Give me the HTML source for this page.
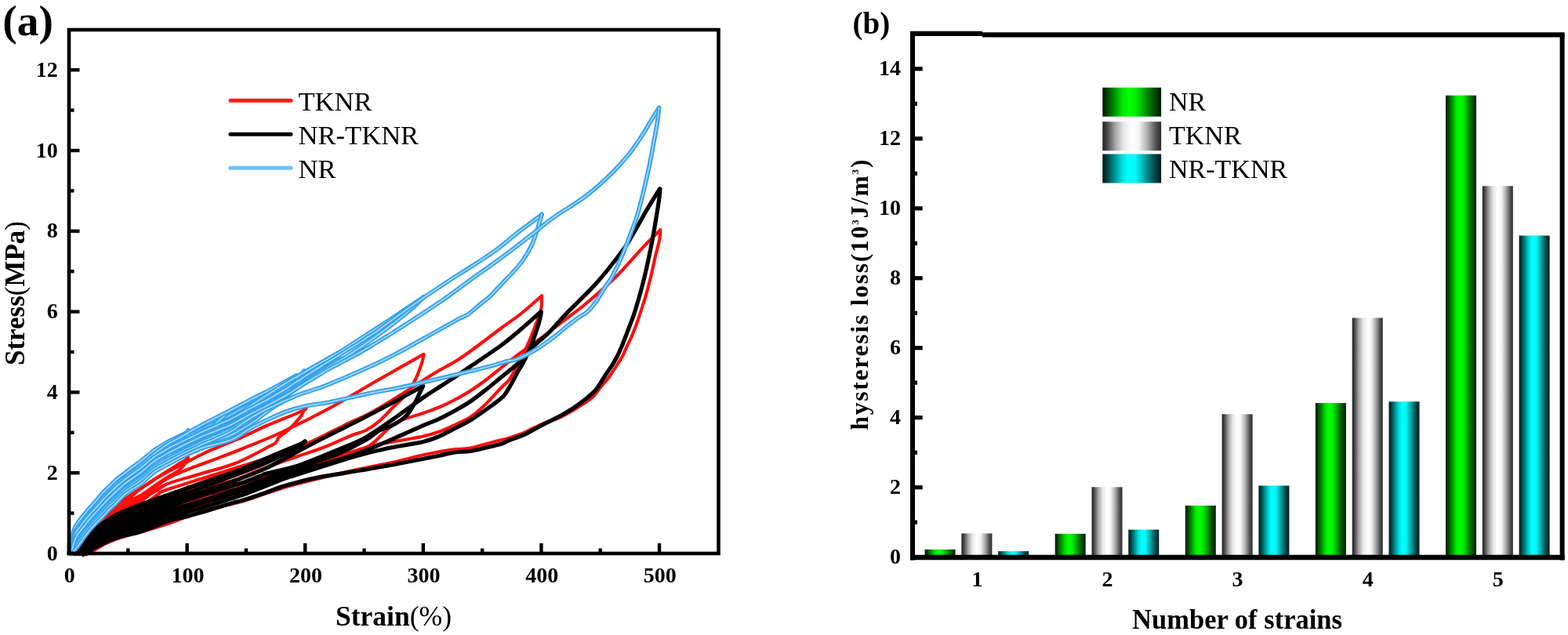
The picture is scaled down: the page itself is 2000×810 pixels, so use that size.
<!DOCTYPE html>
<html><head><meta charset="utf-8"><title>Hysteresis figure</title>
<style>
html,body{margin:0;padding:0;background:#fff;}
body{width:2000px;height:810px;overflow:hidden;}
svg{display:block;}
text{font-family:"Liberation Serif","Times New Roman",serif;}
.b{font-weight:bold;}
</style></head><body>
<svg width="2000" height="810" viewBox="0 0 2000 810">
<defs>
<linearGradient id="gG" x1="0" x2="1" y1="0" y2="0">
<stop offset="0" stop-color="#001600"/><stop offset="0.07" stop-color="#003c00"/><stop offset="0.2" stop-color="#009000"/><stop offset="0.34" stop-color="#00e800"/><stop offset="0.45" stop-color="#00ff00"/><stop offset="0.56" stop-color="#00f000"/><stop offset="0.72" stop-color="#00a000"/><stop offset="0.87" stop-color="#005000"/><stop offset="1" stop-color="#001a00"/>
</linearGradient>
<linearGradient id="gW" x1="0" x2="1" y1="0" y2="0">
<stop offset="0" stop-color="#202020"/><stop offset="0.08" stop-color="#484848"/><stop offset="0.22" stop-color="#a8a8a8"/><stop offset="0.36" stop-color="#e8e8e8"/><stop offset="0.5" stop-color="#ffffff"/><stop offset="0.62" stop-color="#f4f4f4"/><stop offset="0.76" stop-color="#b0b0b0"/><stop offset="0.9" stop-color="#585858"/><stop offset="1" stop-color="#282828"/>
</linearGradient>
<linearGradient id="gC" x1="0" x2="1" y1="0" y2="0">
<stop offset="0" stop-color="#001818"/><stop offset="0.07" stop-color="#003c3c"/><stop offset="0.18" stop-color="#008080"/><stop offset="0.32" stop-color="#00d8d8"/><stop offset="0.43" stop-color="#00ffff"/><stop offset="0.56" stop-color="#00f8f8"/><stop offset="0.7" stop-color="#00b0b0"/><stop offset="0.85" stop-color="#005858"/><stop offset="1" stop-color="#001c1c"/>
</linearGradient>
</defs>
<rect x="0" y="0" width="2000" height="810" fill="#fff"/>

<g id="chartA">
<g fill="none" stroke-linejoin="round" stroke-linecap="round"><g stroke="#ff0d0d" stroke-width="4.1"><path d="M100.0 706.0C101.0 703.9 104.0 696.0 106.1 693.3C108.1 690.7 110.1 691.2 112.1 690.1C114.1 689.0 116.2 687.9 118.2 686.8C120.2 685.6 122.2 684.4 124.2 683.1C126.3 681.8 128.3 680.2 130.3 678.7C132.3 677.3 134.3 675.8 136.4 674.4C138.4 673.0 140.4 671.6 142.4 670.3C144.4 668.9 146.5 667.6 148.5 666.4C150.5 665.2 152.5 664.1 154.5 663.0C156.6 661.9 158.6 660.7 160.6 659.7C162.6 658.6 164.6 657.7 166.7 656.8C168.7 655.8 170.7 654.9 172.7 654.0C174.7 653.1 176.8 652.2 178.8 651.3C180.8 650.4 182.8 649.4 184.8 648.4C186.9 647.4 188.9 646.4 190.9 645.4C192.9 644.4 194.9 643.5 197.0 642.5C199.0 641.5 201.0 640.5 203.0 639.6C205.1 638.6 207.1 637.6 209.1 636.7C211.1 635.7 213.1 634.8 215.2 633.8C217.2 632.8 219.2 631.9 221.2 630.9C223.2 629.9 225.3 628.8 227.3 627.8C229.3 626.8 231.3 625.8 233.3 624.8C235.4 623.9 237.4 622.9 239.4 622.0C241.4 621.1 243.4 620.4 245.5 619.6C247.5 618.8 249.5 618.1 251.5 617.3C253.5 616.6 255.6 616.0 257.6 615.2C259.6 614.4 261.6 613.6 263.6 612.7C265.7 611.8 267.7 610.9 269.7 609.9C271.7 609.0 273.7 608.0 275.8 607.0C277.8 606.1 279.8 605.2 281.8 604.3C283.8 603.4 285.9 602.5 287.9 601.6C289.9 600.8 291.9 600.0 293.9 599.2C296.0 598.5 299.0 597.5 300.0 597.1"/><path d="M102.4 706.0C103.4 704.2 106.5 697.7 108.5 695.3C110.6 693.0 112.6 693.1 114.6 692.0C116.7 690.8 118.7 689.8 120.8 688.6C122.8 687.3 124.9 685.9 126.9 684.5C128.9 683.1 131.0 681.6 133.0 680.2C135.1 678.9 137.1 677.6 139.1 676.3C141.2 675.0 143.2 673.6 145.3 672.4C147.3 671.2 149.4 670.2 151.4 669.2C153.4 668.1 155.5 667.0 157.5 666.0C159.6 665.0 161.6 664.0 163.6 663.1C165.7 662.2 167.7 661.4 169.8 660.5C171.8 659.6 173.8 658.8 175.9 658.0C177.9 657.1 180.0 656.3 182.0 655.4C184.1 654.5 186.1 653.6 188.1 652.6C190.2 651.7 192.2 650.8 194.3 649.9C196.3 649.0 198.3 648.0 200.4 647.1C202.4 646.2 204.5 645.3 206.5 644.4C208.6 643.5 210.6 642.6 212.6 641.7C214.7 640.8 216.7 639.9 218.8 639.0C220.8 638.0 222.8 637.0 224.9 636.0C226.9 635.1 229.0 634.1 231.0 633.1C233.0 632.2 235.1 631.3 237.1 630.3C239.2 629.4 241.2 628.5 243.3 627.6C245.3 626.7 247.3 625.8 249.4 625.0C251.4 624.3 253.5 623.6 255.5 622.9C257.5 622.3 259.6 621.7 261.6 621.2C263.7 620.6 265.7 620.1 267.8 619.6C269.8 619.2 271.8 618.7 273.9 618.3C275.9 617.9 279.0 617.2 280.0 617.0"/><path d="M106.0 706.0C107.0 704.7 110.1 700.1 112.1 698.2C114.2 696.4 116.2 696.0 118.2 694.9C120.3 693.7 122.3 692.5 124.3 691.2C126.4 690.0 128.4 688.5 130.5 687.2C132.5 685.9 134.5 684.7 136.6 683.5C138.6 682.3 140.6 681.1 142.7 680.0C144.7 678.9 146.8 677.9 148.8 676.9C150.8 675.9 152.9 675.1 154.9 674.2C157.0 673.3 159.0 672.4 161.0 671.5C163.1 670.7 165.1 669.9 167.1 669.1C169.2 668.4 171.2 667.7 173.3 667.0C175.3 666.3 177.3 665.6 179.4 664.8C181.4 664.1 183.4 663.3 185.5 662.5C187.5 661.7 189.6 660.9 191.6 660.1C193.6 659.3 195.7 658.5 197.7 657.6C199.8 656.8 201.8 656.0 203.8 655.2C205.9 654.4 207.9 653.6 209.9 652.8C212.0 652.0 214.0 651.2 216.1 650.4C218.1 649.6 220.1 648.7 222.2 647.8C224.2 646.9 226.2 646.0 228.3 645.1C230.3 644.2 232.4 643.3 234.4 642.5C236.4 641.6 238.5 640.7 240.5 639.9C242.6 639.1 244.6 638.3 246.6 637.5C248.7 636.8 250.7 636.1 252.7 635.4C254.8 634.7 256.8 634.1 258.9 633.5C260.9 632.8 262.9 632.2 265.0 631.5C267.0 630.9 269.0 630.2 271.1 629.6C273.1 628.9 275.2 628.3 277.2 627.7C279.2 627.0 281.3 626.4 283.3 625.7C285.4 625.0 287.4 624.2 289.4 623.5C291.5 622.8 293.5 622.1 295.5 621.3C297.6 620.6 299.6 619.9 301.7 619.2C303.7 618.5 305.7 617.9 307.8 617.1C309.8 616.4 311.8 615.7 313.9 615.0C315.9 614.3 319.0 613.2 320.0 612.9"/><path d="M109.6 706.0C110.6 705.2 113.7 702.5 115.7 701.1C117.8 699.7 119.8 698.9 121.8 697.7C123.9 696.5 125.9 695.2 128.0 693.9C130.0 692.7 132.0 691.3 134.1 690.2C136.1 689.1 138.2 688.2 140.2 687.2C142.3 686.2 144.3 685.1 146.3 684.2C148.4 683.4 150.4 682.7 152.5 682.0C154.5 681.2 156.5 680.4 158.6 679.7C160.6 678.9 162.7 678.2 164.7 677.5C166.7 676.8 168.8 676.2 170.8 675.6C172.9 675.0 174.9 674.5 176.9 673.8C179.0 673.2 181.0 672.6 183.1 671.9C185.1 671.3 187.1 670.5 189.2 669.8C191.2 669.2 193.3 668.5 195.3 667.8C197.4 667.1 199.4 666.4 201.4 665.7C203.5 665.0 205.5 664.3 207.6 663.6C209.6 662.9 211.6 662.2 213.7 661.4C215.7 660.7 217.8 660.0 219.8 659.3C221.8 658.5 223.9 657.6 225.9 656.8C228.0 655.9 230.0 655.1 232.0 654.3C234.1 653.5 236.1 652.6 238.2 651.8C240.2 651.0 242.2 650.2 244.3 649.5C246.3 648.7 248.4 647.9 250.4 647.2C252.5 646.5 254.5 646.0 256.5 645.4C258.6 644.8 260.6 644.2 262.7 643.5C264.7 642.9 266.7 642.3 268.8 641.7C270.8 641.1 272.9 640.4 274.9 639.9C276.9 639.3 279.0 638.8 281.0 638.3C283.1 637.8 285.1 637.3 287.1 636.7C289.2 636.1 291.2 635.3 293.3 634.5C295.3 633.7 297.3 632.8 299.4 631.8C301.4 630.8 303.5 629.8 305.5 628.7C307.6 627.6 309.6 626.4 311.6 625.2C313.7 624.0 315.7 622.7 317.8 621.5C319.8 620.4 321.8 619.2 323.9 618.2C325.9 617.2 329.0 616.0 330.0 615.6"/><path d="M90.1 706.0C91.1 703.9 94.2 696.3 96.2 693.2C98.2 690.0 100.3 689.0 102.3 687.0C104.3 685.1 106.4 683.2 108.4 681.4C110.5 679.7 112.5 678.1 114.5 676.6C116.6 675.1 118.6 674.0 120.6 672.6C122.7 671.1 124.7 669.5 126.7 667.9C128.8 666.3 130.8 664.6 132.8 662.9C134.9 661.2 136.9 659.4 138.9 657.7C141.0 656.0 143.0 654.1 145.1 652.5C147.1 650.9 149.1 649.5 151.2 648.0C153.2 646.5 155.2 645.0 157.3 643.6C159.3 642.2 161.3 640.9 163.4 639.7C165.4 638.5 167.4 637.4 169.5 636.5C171.5 635.5 173.5 634.8 175.6 634.0C177.6 633.2 179.6 632.6 181.7 631.7C183.7 630.8 185.8 629.8 187.8 628.6C189.8 627.4 191.9 626.1 193.9 624.7C195.9 623.3 199.0 621.0 200.0 620.2"/><path d="M91.6 706.0C92.6 704.1 95.8 697.3 97.8 694.4C99.9 691.5 102.0 690.4 104.1 688.5C106.1 686.5 108.2 684.6 110.3 682.8C112.4 681.1 114.4 679.6 116.5 678.0C118.6 676.5 120.7 675.0 122.8 673.4C124.8 671.8 126.9 670.1 129.0 668.5C131.1 666.8 133.1 665.2 135.2 663.5C137.3 661.8 139.4 660.1 141.5 658.5C143.5 656.9 145.6 655.4 147.7 654.0C149.8 652.5 151.8 651.1 153.9 649.7C156.0 648.3 158.1 646.7 160.1 645.5C162.2 644.3 164.3 643.4 166.4 642.4C168.5 641.4 170.5 640.3 172.6 639.3C174.7 638.3 176.8 637.3 178.8 636.3C180.9 635.4 183.0 634.6 185.1 633.6C187.2 632.7 189.2 631.8 191.3 630.7C193.4 629.6 195.5 628.4 197.5 627.1C199.6 625.8 201.7 624.3 203.8 622.9C205.8 621.5 209.0 619.5 210.0 618.8"/><path d="M93.1 706.0C94.1 704.4 97.1 698.8 99.2 696.2C101.2 693.6 103.2 692.4 105.2 690.5C107.2 688.7 109.2 686.8 111.3 685.1C113.3 683.3 115.3 681.8 117.3 680.1C119.3 678.5 121.4 676.8 123.4 675.2C125.4 673.6 127.4 672.1 129.4 670.5C131.5 669.0 133.5 667.5 135.5 665.9C137.5 664.4 139.5 662.9 141.6 661.4C143.6 660.0 145.6 658.8 147.6 657.5C149.6 656.2 151.6 654.9 153.7 653.6C155.7 652.3 157.7 650.9 159.7 649.6C161.7 648.4 163.8 647.4 165.8 646.2C167.8 645.0 169.8 643.7 171.8 642.4C173.9 641.1 175.9 639.8 177.9 638.3C179.9 636.7 181.9 634.9 183.9 633.2C186.0 631.4 189.0 628.8 190.0 627.9"/><path d="M91.0 706.0C92.1 703.9 95.2 696.7 97.4 693.7C99.5 690.6 101.6 689.5 103.7 687.5C105.8 685.6 108.0 683.6 110.1 681.8C112.2 680.1 114.3 678.6 116.4 677.0C118.5 675.4 120.7 674.1 122.8 672.5C124.9 670.9 127.0 669.1 129.1 667.4C131.3 665.7 133.4 663.9 135.5 662.2C137.6 660.5 139.7 658.7 141.9 657.0C144.0 655.3 146.1 653.8 148.2 652.1C150.3 650.3 152.5 648.4 154.6 646.4C156.7 644.4 158.8 642.1 160.9 640.1C163.0 638.0 165.2 636.0 167.3 633.9C169.4 631.9 171.5 629.8 173.6 628.0C175.8 626.1 178.9 623.8 180.0 623.0"/><path d="M88.0 706.0C89.0 703.7 92.1 695.8 94.2 692.2C96.2 688.7 98.3 686.9 100.3 684.7C102.4 682.4 104.4 680.7 106.5 678.8C108.6 677.0 110.6 675.1 112.7 673.6C114.7 672.2 116.8 671.4 118.8 670.2C120.9 668.9 122.9 667.6 125.0 666.1C127.1 664.5 129.1 662.7 131.2 660.8C133.2 659.0 135.3 657.1 137.3 655.2C139.4 653.3 141.4 651.3 143.5 649.4C145.6 647.6 147.6 645.8 149.7 644.1C151.7 642.4 153.8 640.8 155.8 639.3C157.9 637.7 159.9 636.1 162.0 634.7C164.1 633.3 166.1 632.0 168.2 630.7C170.2 629.4 172.3 628.0 174.3 626.7C176.4 625.3 178.4 624.0 180.5 622.7C182.6 621.3 184.6 619.9 186.7 618.5C188.7 617.1 190.8 615.7 192.8 614.3C194.9 612.9 196.9 611.5 199.0 610.2C201.1 608.8 203.1 607.5 205.2 606.2C207.2 604.9 209.3 603.6 211.3 602.3C213.4 601.0 215.4 599.7 217.5 598.4C219.6 597.1 221.6 595.8 223.7 594.5C225.7 593.2 227.8 591.8 229.8 590.6C231.9 589.4 234.3 588.4 236.0 587.2C237.7 586.0 239.3 584.1 240.0 583.5"/><path d="M96.0 706.0C97.1 702.9 100.3 691.4 102.4 687.6C104.6 683.7 106.7 684.4 108.9 682.9C111.0 681.4 113.1 680.0 115.3 678.6C117.4 677.3 119.6 676.4 121.7 675.0C123.9 673.6 126.0 671.8 128.2 670.2C130.3 668.5 132.4 666.6 134.6 664.9C136.7 663.1 138.9 661.4 141.0 659.6C143.2 657.8 145.3 656.0 147.4 654.3C149.6 652.6 151.7 651.2 153.9 649.6C156.0 648.0 158.2 646.2 160.3 644.6C162.5 643.1 164.6 641.7 166.7 640.2C168.9 638.8 171.0 637.4 173.2 636.0C175.3 634.6 173.6 636.1 179.6 632.0C185.6 627.9 201.2 616.8 209.3 611.5C217.4 606.2 223.4 603.6 228.0 600.0C232.6 596.4 235.0 592.8 237.0 590.0C239.0 587.2 239.5 584.6 240.0 583.5"/><path d="M88.0 706.0C89.0 703.7 92.1 695.7 94.2 692.2C96.3 688.6 98.4 686.8 100.4 684.6C102.5 682.3 104.6 680.5 106.7 678.7C108.7 676.8 110.8 674.9 112.9 673.5C115.0 672.1 117.0 671.3 119.1 670.0C121.2 668.7 123.3 667.4 125.3 665.8C127.4 664.2 129.5 662.3 131.6 660.5C133.6 658.7 135.7 656.7 137.8 654.8C139.9 652.9 141.9 650.8 144.0 648.9C146.1 647.1 148.1 645.4 150.2 643.7C152.3 642.0 154.4 640.4 156.4 638.8C158.5 637.2 160.6 635.7 162.7 634.3C164.7 632.8 166.8 631.6 168.9 630.2C171.0 628.9 173.0 627.5 175.1 626.2C177.2 624.8 179.3 623.5 181.3 622.1C183.4 620.7 185.5 619.3 187.6 617.9C189.6 616.5 191.7 615.1 193.8 613.7C195.9 612.3 192.5 613.6 200.0 609.5C207.5 605.4 227.5 594.9 238.9 589.0C250.3 583.1 256.6 579.7 268.5 574.4C280.4 569.1 298.1 562.2 310.0 557.0C321.9 551.8 327.3 548.5 340.0 543.0C352.7 537.5 377.8 527.8 386.0 524.0C394.2 520.2 388.5 520.7 389.0 520.0"/><path d="M98.0 706.0C99.0 703.4 102.2 693.4 104.3 690.1C106.4 686.9 108.5 687.7 110.6 686.4C112.6 685.2 114.7 683.9 116.8 682.6C118.9 681.4 121.0 680.4 123.1 679.0C125.2 677.6 127.3 675.9 129.4 674.3C131.5 672.7 133.6 671.0 135.7 669.4C137.8 667.8 139.8 666.3 141.9 664.7C144.0 663.1 146.1 661.6 148.2 660.1C150.3 658.7 152.4 657.4 154.5 655.9C156.6 654.5 158.7 652.9 160.8 651.5C162.9 650.1 165.0 648.8 167.0 647.4C169.1 646.1 171.2 644.8 173.3 643.6C175.4 642.3 173.6 644.1 179.6 640.0C185.6 635.9 196.9 624.8 209.3 619.0C221.7 613.2 238.9 609.7 254.0 605.0C269.1 600.3 284.9 597.0 300.0 591.0C315.1 585.0 335.8 573.4 344.4 569.0C353.0 564.6 349.9 566.4 351.9 564.4C353.9 562.4 353.8 559.5 356.3 557.0C358.8 554.5 362.2 553.8 366.7 549.6C371.1 545.4 379.6 536.3 383.0 532.0C386.4 527.7 386.4 526.0 387.4 524.0C388.4 522.0 388.7 520.7 389.0 520.0"/><path d="M93.0 706.0C94.0 703.4 97.1 693.6 99.2 690.2C101.2 686.7 103.3 686.9 105.4 685.3C107.4 683.8 109.5 682.2 111.6 680.8C113.6 679.5 115.7 678.5 117.7 677.3C119.8 676.0 121.9 675.0 123.9 673.5C126.0 672.1 128.1 670.3 130.1 668.6C132.2 666.9 134.2 665.2 136.3 663.5C138.4 661.8 140.4 660.0 142.5 658.3C144.5 656.7 146.6 655.0 148.7 653.5C150.7 652.0 152.8 650.7 154.9 649.4C156.9 648.1 159.0 646.8 161.0 645.6C163.1 644.5 165.2 643.5 167.2 642.5C169.3 641.4 171.4 640.4 173.4 639.3C175.5 638.2 173.6 640.4 179.6 636.0C185.6 631.6 199.4 619.2 209.3 613.0C219.2 606.8 229.0 603.2 238.9 599.0C248.8 594.8 256.6 592.5 268.5 588.0C280.4 583.5 294.8 578.2 310.0 572.0C325.2 565.8 341.4 559.7 360.0 551.0C378.6 542.3 401.5 530.8 421.5 520.0C441.5 509.2 460.2 497.3 480.0 486.0C499.8 474.7 530.0 457.7 540.0 452.0"/><path d="M101.0 706.0C102.0 704.1 105.0 696.8 107.0 694.4C109.0 691.9 111.1 692.3 113.1 691.2C115.1 690.1 117.1 689.1 119.1 687.9C121.1 686.7 123.1 685.5 125.1 684.1C127.1 682.8 129.1 681.3 131.2 679.9C133.2 678.5 135.2 677.1 137.2 675.7C139.2 674.4 141.2 673.0 143.2 671.7C145.2 670.4 147.2 669.2 149.2 668.1C151.3 667.0 153.3 665.9 155.3 664.9C157.3 663.8 159.3 662.7 161.3 661.8C163.3 660.8 165.3 659.9 167.3 659.0C169.3 658.1 171.4 657.2 173.4 656.4C175.4 655.5 177.4 654.7 179.4 653.8C181.4 652.9 183.4 651.9 185.4 651.0C187.4 650.0 189.4 649.1 191.5 648.2C193.5 647.2 195.5 646.3 197.5 645.3C199.5 644.4 201.5 643.5 203.5 642.5C205.5 641.6 207.5 640.7 209.5 639.8C211.6 638.8 213.6 637.9 215.6 637.0C217.6 636.1 219.6 635.1 221.6 634.1C223.6 633.2 225.6 632.2 227.6 631.3C229.6 630.4 231.7 629.6 233.7 628.8C235.7 628.0 237.7 627.2 239.7 626.5C241.7 625.8 243.7 625.2 245.7 624.7C247.7 624.1 249.7 623.6 251.8 623.2C253.8 622.7 255.8 622.3 257.8 621.9C259.8 621.4 261.8 621.0 263.8 620.6C265.8 620.2 267.8 619.7 269.8 619.3C271.9 618.8 273.9 618.3 275.9 617.9C277.9 617.5 279.9 617.1 281.9 616.6C283.9 616.2 285.9 615.7 287.9 615.3C289.9 614.8 292.0 614.3 294.0 613.7C296.0 613.2 292.3 615.0 300.0 612.0C307.7 609.0 326.7 601.0 340.0 596.0C353.3 591.0 367.6 586.3 380.0 582.0C392.4 577.7 403.1 574.5 414.6 570.0C426.1 565.5 440.6 558.5 449.2 555.0C457.8 551.5 460.7 552.0 466.5 549.0C472.3 546.0 478.0 542.0 483.8 537.1C489.6 532.2 495.3 525.6 501.1 519.8C506.9 514.0 513.6 508.5 518.4 502.5C523.2 496.5 526.6 490.5 529.9 484.0C533.1 477.5 536.1 468.8 537.9 463.5C539.7 458.2 540.1 453.9 540.5 452.0"/><path d="M99.0 706.0C100.0 703.7 103.1 695.2 105.1 692.4C107.2 689.6 109.2 690.3 111.3 689.1C113.3 688.0 115.3 686.8 117.4 685.6C119.4 684.4 121.5 683.3 123.5 682.0C125.6 680.6 127.6 679.0 129.6 677.5C131.7 676.0 133.7 674.5 135.8 673.0C137.8 671.5 139.9 670.1 141.9 668.7C143.9 667.3 146.0 665.8 148.0 664.5C150.1 663.2 152.1 662.1 154.2 661.0C156.2 659.8 158.2 658.5 160.3 657.4C162.3 656.3 164.4 655.4 166.4 654.4C168.4 653.3 170.5 652.2 172.5 651.1C174.6 649.9 176.6 648.6 178.7 647.2C180.7 645.9 182.7 644.4 184.8 642.9C186.8 641.4 188.9 639.9 190.9 638.3C193.0 636.8 195.0 635.3 197.0 633.8C199.1 632.3 201.1 630.9 203.2 629.6C205.2 628.3 198.4 629.8 209.3 626.0C220.2 622.2 251.7 612.3 268.5 607.0C285.3 601.7 294.8 598.8 310.0 594.0C325.2 589.2 345.0 583.3 360.0 578.0C375.0 572.7 386.7 568.0 400.0 562.0C413.3 556.0 428.0 547.8 440.0 542.0C452.0 536.2 461.3 532.7 472.0 527.0C482.7 521.3 492.7 515.0 504.0 508.0C515.3 501.0 530.7 490.9 540.0 485.0C549.3 479.1 553.3 476.5 560.0 472.6C566.7 468.7 573.3 465.6 580.0 461.5C586.7 457.4 590.0 455.2 600.0 448.0C610.0 440.8 629.2 426.0 640.0 418.0C650.8 410.0 656.2 406.8 664.7 400.0C673.2 393.2 686.6 381.1 691.0 377.3"/><path d="M106.0 706.0C107.0 705.1 110.0 702.0 112.0 700.6C114.0 699.1 116.0 698.4 118.0 697.3C120.0 696.1 122.0 695.0 124.0 693.7C126.0 692.5 128.0 691.1 130.0 689.9C132.0 688.7 134.0 687.5 136.0 686.3C138.0 685.2 140.0 684.2 142.0 683.2C144.0 682.1 146.0 681.1 148.0 680.2C150.0 679.3 152.0 678.6 154.0 677.8C156.0 677.0 158.0 676.1 160.0 675.3C162.0 674.5 164.0 673.7 166.0 673.0C168.0 672.3 170.0 671.7 172.0 671.1C174.0 670.4 176.0 669.8 178.0 669.2C180.0 668.5 182.0 667.8 184.0 667.0C186.0 666.3 188.0 665.6 190.0 664.8C192.0 664.1 194.0 663.4 196.0 662.6C198.0 661.9 200.0 661.2 202.0 660.4C204.0 659.7 206.0 658.9 208.0 658.2C210.0 657.4 212.0 656.7 214.0 655.9C216.0 655.2 218.0 654.5 220.0 653.6C222.0 652.8 224.0 651.9 226.0 651.1C228.0 650.2 230.0 649.4 232.0 648.5C234.0 647.7 236.0 646.9 238.0 646.1C240.0 645.2 242.0 644.5 244.0 643.7C246.0 642.9 248.0 642.1 250.0 641.4C252.0 640.7 254.0 640.2 256.0 639.6C258.0 638.9 260.0 638.3 262.0 637.6C264.0 637.0 266.0 636.3 268.0 635.7C270.0 635.0 272.0 634.3 274.0 633.7C276.0 633.1 278.0 632.5 280.0 631.9C282.0 631.3 284.0 630.7 286.0 630.1C288.0 629.5 290.0 628.9 292.0 628.4C294.0 627.8 296.0 627.2 298.0 626.6C300.0 626.0 302.0 625.4 304.0 624.8C306.0 624.2 308.0 623.6 310.0 622.9C312.0 622.2 314.0 621.4 316.0 620.7C318.0 620.0 320.0 619.2 322.0 618.5C324.0 617.7 326.0 617.0 328.0 616.3C330.0 615.6 332.0 614.8 334.0 614.1C336.0 613.4 329.0 615.7 340.0 612.0C351.0 608.3 383.3 597.5 400.0 592.0C416.7 586.5 428.0 582.8 440.0 579.0C452.0 575.2 461.3 572.1 472.0 569.4C482.7 566.7 492.7 565.1 504.0 563.0C515.3 560.9 530.7 558.7 540.0 556.6C549.3 554.5 553.3 553.0 560.0 550.6C566.7 548.2 573.3 545.1 580.0 542.0C586.7 538.9 593.5 536.3 600.0 532.0C606.5 527.7 612.5 522.2 619.0 516.0C625.5 509.8 633.7 500.3 638.8 495.0C643.9 489.7 645.9 489.0 649.4 484.4C652.9 479.8 656.6 472.9 659.8 467.2C663.0 461.4 665.8 455.4 668.4 449.9C671.0 444.4 673.0 439.8 675.3 434.3C677.6 428.8 679.8 423.6 682.2 417.0C684.7 410.4 688.5 401.2 690.0 394.6C691.5 388.0 690.8 380.2 691.0 377.3"/><path d="M103.0 706.0C104.0 704.7 107.1 700.1 109.1 698.2C111.1 696.4 113.1 696.0 115.2 694.9C117.2 693.8 119.2 692.8 121.2 691.5C123.3 690.3 125.3 688.9 127.3 687.6C129.3 686.3 131.4 684.8 133.4 683.5C135.4 682.2 137.4 681.1 139.5 679.9C141.5 678.7 143.5 677.4 145.5 676.3C147.6 675.2 149.6 674.4 151.6 673.4C153.6 672.5 155.7 671.5 157.7 670.6C159.7 669.7 161.7 668.8 163.8 668.0C165.8 667.1 167.8 666.4 169.8 665.6C171.9 664.8 173.9 664.1 175.9 663.4C177.9 662.6 180.0 661.8 182.0 661.0C184.0 660.2 186.1 659.4 188.1 658.5C190.1 657.7 192.1 656.8 194.2 656.0C196.2 655.2 198.2 654.3 200.2 653.5C202.3 652.7 204.3 651.8 206.3 651.0C208.3 650.2 210.4 649.3 212.4 648.5C214.4 647.7 216.4 646.9 218.5 646.0C220.5 645.1 222.5 644.2 224.5 643.3C226.6 642.3 228.6 641.4 230.6 640.5C232.6 639.6 234.7 638.7 236.7 637.8C238.7 637.0 240.7 636.1 242.8 635.3C244.8 634.5 246.8 633.7 248.8 633.0C250.9 632.3 252.9 631.7 254.9 631.1C256.9 630.5 259.0 629.8 261.0 629.2C263.0 628.6 265.1 628.0 267.1 627.4C269.1 626.8 271.1 626.2 273.2 625.6C275.2 625.0 277.2 624.5 279.2 623.9C281.3 623.4 283.3 622.9 285.3 622.4C287.3 621.9 289.4 621.4 291.4 620.9C293.4 620.4 295.4 619.9 297.5 619.4C299.5 618.9 301.5 618.4 303.5 617.8C305.6 617.3 307.6 616.9 309.6 616.3C311.6 615.7 313.7 614.9 315.7 614.3C317.7 613.6 319.7 613.0 321.8 612.3C323.8 611.6 325.8 610.9 327.8 610.2C329.9 609.5 331.9 608.9 333.9 608.1C335.9 607.4 329.0 609.0 340.0 606.0C351.0 603.0 383.3 594.2 400.0 590.0C416.7 585.8 428.0 584.7 440.0 581.0C452.0 577.3 461.3 574.8 472.0 568.0C482.7 561.2 492.7 546.8 504.0 540.0C515.3 533.2 530.7 530.4 540.0 527.0C549.3 523.6 553.3 522.3 560.0 519.5C566.7 516.7 573.3 513.5 580.0 510.0C586.7 506.5 593.3 502.8 600.0 498.5C606.7 494.2 613.3 489.5 620.0 484.5C626.7 479.5 633.3 473.8 640.0 468.5C646.7 463.2 651.8 459.1 660.0 453.0C668.2 446.9 679.1 439.3 689.0 432.0C698.9 424.7 709.5 416.6 719.3 409.0C729.1 401.4 737.0 396.0 748.0 386.7C759.0 377.4 773.6 365.0 785.5 353.3C797.4 341.6 809.9 326.3 819.3 316.3C828.7 306.3 838.2 297.3 842.0 293.5"/><path d="M110.0 707.5C111.7 706.6 116.1 704.2 120.0 702.0C123.9 699.8 129.2 696.2 133.5 694.0C137.8 691.8 140.6 690.5 146.0 688.5C151.4 686.5 160.3 683.7 166.0 682.0C171.7 680.3 174.3 680.1 180.0 678.5C185.7 676.9 193.5 674.5 200.0 672.5C206.5 670.5 210.8 669.4 219.0 666.5C227.2 663.6 239.7 658.2 249.0 655.0C258.3 651.8 265.0 650.1 275.0 647.5C285.0 644.9 295.0 643.6 309.0 639.5C323.0 635.4 342.5 627.9 359.0 623.0C375.5 618.1 391.2 614.2 408.0 610.0C424.8 605.8 444.7 601.3 460.0 598.0C475.3 594.7 486.7 593.0 500.0 590.0C513.3 587.0 530.0 582.6 540.0 580.3C550.0 578.0 553.3 577.5 560.0 576.3C566.7 575.1 573.3 573.8 580.0 573.0C586.7 572.2 590.0 573.5 600.0 571.5C610.0 569.5 631.9 563.1 640.0 561.0C648.1 558.9 643.9 560.5 648.6 559.0C653.3 557.5 663.2 554.1 668.4 552.0C673.6 549.9 675.2 548.5 680.0 546.2C684.8 544.0 691.5 540.8 697.3 538.5C703.1 536.2 707.7 535.6 714.6 532.3C721.5 529.0 731.9 522.8 738.8 518.5C745.7 514.2 751.5 510.5 756.0 506.4C760.5 502.3 762.4 498.4 766.0 494.0C769.6 489.6 774.3 484.5 777.6 480.0C780.9 475.5 783.3 471.2 786.0 467.0C788.7 462.8 791.3 459.3 793.6 455.0C795.9 450.7 798.0 445.2 800.0 441.0C802.0 436.8 803.5 434.2 805.3 430.0C807.1 425.8 809.3 420.5 811.0 416.0C812.7 411.5 814.0 407.1 815.5 402.8C817.0 398.5 818.4 394.1 819.7 390.0C821.0 385.9 821.8 384.2 823.5 378.1C825.2 372.0 828.0 361.7 830.0 353.5C832.0 345.3 833.6 337.1 835.5 328.8C837.4 320.6 840.4 310.0 841.5 304.0C842.6 298.0 841.9 294.8 842.0 293.0"/></g><g stroke="#000" stroke-width="5.2"><path d="M89.3 706.0C90.3 705.1 93.3 702.6 95.4 700.8C97.4 699.0 99.5 697.3 101.5 695.4C103.5 693.6 105.6 691.6 107.6 689.7C109.7 687.7 111.7 685.6 113.7 683.7C115.8 681.8 117.8 679.9 119.9 678.1C121.9 676.4 123.9 674.8 126.0 673.3C128.0 671.8 130.1 670.4 132.1 669.0C134.1 667.6 136.2 666.2 138.2 664.9C140.3 663.6 142.3 662.4 144.3 661.2C146.4 660.0 148.4 658.9 150.5 657.9C152.5 656.9 154.5 656.2 156.6 655.3C158.6 654.4 160.6 653.6 162.7 652.7C164.7 651.9 166.8 651.1 168.8 650.3C170.8 649.5 172.9 648.7 174.9 648.0C177.0 647.2 179.0 646.4 181.0 645.6C183.1 644.9 185.1 644.2 187.2 643.4C189.2 642.7 191.2 641.9 193.3 641.2C195.3 640.4 197.4 639.5 199.4 638.7C201.4 637.9 203.5 637.0 205.5 636.1C207.6 635.2 209.6 634.3 211.6 633.4C213.7 632.5 215.7 631.7 217.8 630.8C219.8 630.0 221.8 629.1 223.9 628.3C225.9 627.5 229.0 626.5 230.0 626.1"/><path d="M90.7 706.0C91.7 705.0 94.9 702.1 97.0 700.3C99.1 698.4 101.2 696.8 103.3 695.0C105.4 693.1 107.4 691.2 109.5 689.3C111.6 687.4 113.7 685.3 115.8 683.4C117.9 681.5 120.0 679.8 122.1 678.1C124.2 676.5 126.3 675.1 128.4 673.6C130.5 672.2 132.6 670.8 134.7 669.4C136.7 668.0 138.8 666.6 140.9 665.3C143.0 664.1 145.1 663.0 147.2 661.9C149.3 660.9 151.4 660.0 153.5 659.0C155.6 658.1 157.7 657.3 159.8 656.5C161.9 655.6 164.0 654.8 166.0 653.9C168.1 653.1 170.2 652.4 172.3 651.6C174.4 650.9 176.5 650.1 178.6 649.4C180.7 648.7 182.8 648.0 184.9 647.3C187.0 646.6 189.1 645.9 191.2 645.3C193.3 644.6 195.3 643.9 197.4 643.2C199.5 642.5 201.6 641.9 203.7 641.1C205.8 640.4 209.0 639.3 210.0 639.0"/><path d="M94.5 706.0C95.5 704.9 98.7 701.4 100.8 699.7C102.8 697.9 104.9 697.0 107.0 695.4C109.1 693.8 111.2 691.9 113.3 690.1C115.4 688.4 117.5 686.5 119.6 684.9C121.7 683.3 123.8 681.9 125.9 680.5C128.0 679.1 130.0 677.8 132.1 676.5C134.2 675.2 136.3 673.9 138.4 672.7C140.5 671.5 142.6 670.3 144.7 669.3C146.8 668.2 148.9 667.3 151.0 666.4C153.1 665.5 155.1 664.8 157.2 664.0C159.3 663.2 161.4 662.4 163.5 661.7C165.6 660.9 167.7 660.2 169.8 659.5C171.9 658.8 174.0 658.1 176.1 657.3C178.2 656.6 180.3 655.9 182.3 655.1C184.4 654.3 186.5 653.4 188.6 652.6C190.7 651.7 192.8 650.8 194.9 649.8C197.0 648.9 199.1 648.0 201.2 647.1C203.3 646.2 205.4 645.3 207.4 644.4C209.5 643.5 211.6 642.6 213.7 641.8C215.8 641.0 219.0 640.0 220.0 639.6"/><path d="M97.0 706.0C98.0 705.0 101.1 701.8 103.2 700.1C105.3 698.5 107.4 697.6 109.4 696.1C111.5 694.5 113.6 692.7 115.7 691.1C117.7 689.5 119.8 687.9 121.9 686.4C123.9 685.0 126.0 683.8 128.1 682.5C130.2 681.3 132.2 680.0 134.3 678.8C136.4 677.6 138.4 676.4 140.5 675.3C142.6 674.3 144.7 673.2 146.7 672.3C148.8 671.4 150.9 670.6 153.0 669.9C155.0 669.1 157.1 668.4 159.2 667.6C161.2 666.9 163.3 666.2 165.4 665.5C167.5 664.8 169.5 664.2 171.6 663.5C173.7 662.8 175.8 662.2 177.8 661.5C179.9 660.8 182.0 660.0 184.0 659.3C186.1 658.5 188.2 657.7 190.3 657.0C192.3 656.2 194.4 655.4 196.5 654.7C198.6 653.9 200.6 653.2 202.7 652.3C204.8 651.5 206.8 650.6 208.9 649.8C211.0 648.9 213.1 647.9 215.1 647.0C217.2 646.1 219.3 645.3 221.3 644.5C223.4 643.7 225.5 642.8 227.6 642.0C229.6 641.2 231.7 640.4 233.8 639.7C235.9 638.9 239.0 637.9 240.0 637.5"/><path d="M98.4 706.0C99.5 705.1 102.7 702.3 104.8 700.7C106.9 699.0 109.0 697.8 111.1 696.3C113.3 694.7 115.4 692.9 117.5 691.4C119.6 689.8 121.7 688.4 123.8 687.0C125.9 685.7 128.1 684.5 130.2 683.3C132.3 682.1 134.4 680.9 136.5 679.7C138.6 678.6 140.8 677.5 142.9 676.4C145.0 675.4 147.1 674.5 149.2 673.6C151.3 672.8 153.5 672.1 155.6 671.4C157.7 670.6 159.8 669.9 161.9 669.2C164.0 668.5 166.1 667.9 168.3 667.3C170.4 666.6 172.5 666.0 174.6 665.4C176.7 664.8 178.8 664.2 181.0 663.6C183.1 662.9 185.2 662.1 187.3 661.3C189.4 660.6 191.5 659.8 193.7 659.1C195.8 658.3 198.9 657.1 200.0 656.8"/><path d="M99.9 706.0C100.9 705.2 104.0 703.0 106.1 701.5C108.1 700.0 110.2 698.6 112.3 697.1C114.3 695.5 116.4 693.9 118.5 692.4C120.5 691.0 122.6 689.7 124.7 688.5C126.7 687.2 128.8 686.1 130.9 684.9C132.9 683.8 135.0 682.7 137.1 681.6C139.1 680.5 141.2 679.5 143.3 678.5C145.3 677.6 147.4 676.7 149.4 675.9C151.5 675.1 153.6 674.5 155.6 673.8C157.7 673.1 159.8 672.4 161.8 671.8C163.9 671.1 166.0 670.5 168.0 669.9C170.1 669.3 172.2 668.6 174.2 668.0C176.3 667.4 178.4 666.8 180.4 666.1C182.5 665.4 184.6 664.6 186.6 663.8C188.7 663.0 190.8 662.2 192.8 661.5C194.9 660.7 197.0 660.0 199.0 659.3C201.1 658.6 203.1 657.9 205.2 657.3C207.3 656.6 209.3 655.9 211.4 655.3C213.5 654.6 215.5 654.1 217.6 653.5C219.7 653.0 221.7 652.5 223.8 652.0C225.9 651.5 229.0 650.6 230.0 650.3"/><path d="M101.5 706.0C102.6 705.3 105.7 703.3 107.8 701.9C109.9 700.5 112.0 699.0 114.1 697.6C116.2 696.1 118.3 694.5 120.4 693.1C122.5 691.8 124.6 690.7 126.7 689.5C128.8 688.3 130.9 687.1 133.0 686.0C135.1 684.9 137.2 683.9 139.3 682.9C141.4 681.9 143.5 680.8 145.6 680.0C147.7 679.1 149.8 678.5 151.9 677.8C154.0 677.1 156.1 676.4 158.2 675.7C160.4 675.1 162.5 674.4 164.6 673.8C166.7 673.2 168.8 672.6 170.9 672.0C173.0 671.4 175.1 670.8 177.2 670.2C179.3 669.6 181.4 669.1 183.5 668.5C185.6 667.9 187.7 667.3 189.8 666.7C191.9 666.2 194.0 665.7 196.1 665.1C198.2 664.6 200.3 664.1 202.4 663.5C204.5 662.9 206.6 662.3 208.7 661.7C210.8 661.0 213.9 660.0 215.0 659.7"/><path d="M102.4 706.0C103.4 705.4 106.6 703.6 108.7 702.3C110.7 700.9 112.8 699.4 114.9 698.0C117.0 696.6 119.1 695.1 121.2 693.8C123.3 692.5 125.3 691.5 127.4 690.4C129.5 689.2 131.6 688.1 133.7 687.0C135.8 685.9 137.9 685.0 139.9 684.0C142.0 683.0 144.1 682.0 146.2 681.2C148.3 680.4 150.4 679.7 152.5 679.2C154.5 678.6 156.6 678.2 158.7 677.9C160.8 677.6 162.9 677.5 165.0 677.3C167.1 677.2 169.1 677.2 171.2 677.2C173.3 677.1 175.4 677.2 177.5 677.0C179.6 676.9 181.7 676.6 183.7 676.1C185.8 675.6 189.0 674.5 190.0 674.1"/><path d="M104.6 706.0C105.6 705.5 108.7 704.4 110.7 703.2C112.8 702.1 114.8 700.5 116.9 699.3C118.9 698.0 121.0 696.7 123.0 695.6C125.1 694.5 127.1 693.5 129.2 692.4C131.2 691.4 133.3 690.4 135.3 689.4C137.4 688.4 139.4 687.5 141.5 686.7C143.6 685.8 145.6 684.9 147.7 684.2C149.7 683.5 151.8 682.9 153.8 682.3C155.9 681.7 157.9 681.1 160.0 680.5C162.0 679.9 164.1 679.4 166.1 678.9C168.2 678.3 170.2 677.8 172.3 677.3C174.3 676.7 176.4 676.3 178.4 675.7C180.5 675.0 182.5 674.2 184.6 673.5C186.6 672.7 188.7 671.9 190.7 671.1C192.8 670.3 194.9 669.5 196.9 668.8C199.0 668.0 201.0 667.2 203.1 666.5C205.1 665.7 207.2 665.0 209.2 664.4C211.3 663.8 213.3 663.1 215.4 662.6C217.4 662.2 219.5 662.0 221.5 661.7C223.6 661.3 225.6 661.0 227.7 660.7C229.7 660.4 231.8 660.0 233.8 659.6C235.9 659.2 239.0 658.4 240.0 658.2"/><path d="M105.5 706.0C106.5 705.6 109.7 704.7 111.8 703.6C113.9 702.5 116.0 700.8 118.1 699.6C120.2 698.3 122.3 697.2 124.4 696.1C126.5 695.0 128.6 694.0 130.7 692.9C132.8 691.9 134.9 691.0 137.0 690.0C139.1 689.1 141.2 688.1 143.3 687.3C145.4 686.5 147.5 685.8 149.6 685.1C151.7 684.4 153.8 683.9 155.9 683.3C158.0 682.7 160.1 682.1 162.2 681.5C164.3 681.0 166.4 680.5 168.5 680.0C170.6 679.5 172.7 679.1 174.8 678.6C176.9 678.1 179.0 677.7 181.1 677.1C183.2 676.5 185.3 675.6 187.4 674.9C189.5 674.2 191.6 673.4 193.7 672.6C195.8 671.9 198.9 670.7 200.0 670.3"/><path d="M92.5 706.0C93.6 705.0 96.7 701.6 98.8 699.8C100.9 697.9 103.0 696.7 105.1 695.0C107.3 693.3 109.4 691.4 111.5 689.5C113.6 687.6 115.7 685.6 117.8 683.8C119.9 682.1 122.0 680.4 124.1 678.9C126.2 677.4 128.3 676.1 130.4 674.8C132.5 673.4 134.7 672.0 136.8 670.7C138.9 669.4 141.0 668.2 143.1 667.0C145.2 665.8 147.3 664.7 149.4 663.8C151.5 662.8 153.6 662.0 155.7 661.2C157.8 660.4 160.0 659.5 162.1 658.7C164.2 657.9 166.3 657.2 168.4 656.5C170.5 655.9 172.6 655.2 174.7 654.6C176.8 654.0 178.9 653.4 181.0 652.7C183.1 652.1 185.2 651.5 187.4 650.8C189.5 650.2 191.6 649.5 193.7 648.8C195.8 648.1 198.9 647.0 200.0 646.6"/><path d="M95.9 706.0C97.0 705.0 100.1 701.5 102.2 699.8C104.3 698.1 106.4 697.2 108.5 695.7C110.6 694.2 112.6 692.2 114.7 690.6C116.8 688.9 118.9 687.2 121.0 685.7C123.1 684.2 125.2 682.9 127.3 681.5C129.4 680.2 131.5 678.9 133.6 677.7C135.6 676.4 137.7 675.2 139.8 674.1C141.9 672.9 144.0 671.8 146.1 670.9C148.2 669.9 150.3 669.1 152.4 668.3C154.5 667.4 156.5 666.7 158.6 665.9C160.7 665.1 162.8 664.3 164.9 663.5C167.0 662.8 169.1 662.0 171.2 661.3C173.3 660.5 175.4 659.8 177.5 659.0C179.5 658.3 181.6 657.5 183.7 656.7C185.8 655.9 189.0 654.7 190.0 654.3"/><path d="M103.7 706.0C104.7 705.5 107.9 704.0 110.0 702.7C112.1 701.5 114.3 699.9 116.4 698.5C118.5 697.1 120.6 695.8 122.7 694.6C124.9 693.4 127.0 692.3 129.1 691.2C131.2 690.1 133.3 689.0 135.5 688.0C137.6 687.0 139.7 686.1 141.8 685.1C144.0 684.1 146.1 683.0 148.2 682.0C150.3 681.0 152.4 680.1 154.6 679.0C156.7 678.0 158.8 676.9 160.9 675.8C163.0 674.8 165.2 673.7 167.3 672.7C169.4 671.8 171.5 670.8 173.6 669.9C175.8 669.1 178.9 668.0 180.0 667.6"/><path d="M88.0 706.0C89.0 705.2 92.1 703.0 94.2 701.3C96.2 699.5 98.3 697.6 100.3 695.7C102.4 693.7 104.4 691.6 106.5 689.5C108.6 687.4 110.6 685.3 112.7 683.3C114.7 681.3 116.8 679.3 118.8 677.4C120.9 675.6 122.9 673.9 125.0 672.3C127.1 670.7 129.1 669.3 131.2 667.9C133.2 666.4 135.3 664.9 137.3 663.6C139.4 662.2 141.4 660.9 143.5 659.7C145.6 658.5 147.6 657.2 149.7 656.2C151.7 655.2 153.8 654.4 155.8 653.5C157.9 652.6 159.9 651.7 162.0 650.8C164.1 649.9 166.1 649.1 168.2 648.3C170.2 647.4 172.3 646.6 174.3 645.8C176.4 645.0 178.4 644.2 180.5 643.4C182.6 642.6 184.6 641.9 186.7 641.2C188.7 640.5 190.8 639.7 192.8 639.0C194.9 638.2 196.9 637.5 199.0 636.8C201.1 636.1 203.1 635.4 205.2 634.6C207.2 633.9 209.3 633.2 211.3 632.5C213.4 631.8 215.4 631.1 217.5 630.4C219.6 629.7 221.6 629.0 223.7 628.3C225.7 627.6 227.8 626.8 229.8 626.1C231.9 625.4 234.3 624.7 236.0 624.0C237.7 623.3 239.3 622.3 240.0 622.0"/><path d="M97.0 706.0C98.0 704.4 101.1 698.9 103.2 696.5C105.3 694.0 107.4 693.1 109.4 691.3C111.5 689.5 113.6 687.5 115.6 685.7C117.7 684.0 119.8 682.2 121.8 680.7C123.9 679.1 126.0 677.7 128.1 676.3C130.1 674.9 132.2 673.6 134.3 672.3C136.3 671.0 138.4 669.6 140.5 668.4C142.5 667.2 144.6 666.1 146.7 665.1C148.8 664.1 150.8 663.2 152.9 662.3C155.0 661.4 157.0 660.7 159.1 659.9C161.2 659.0 163.2 658.2 165.3 657.4C167.4 656.7 169.5 656.0 171.5 655.2C173.6 654.4 175.7 653.5 177.7 652.6C179.8 651.7 181.9 650.7 183.9 649.8C186.0 648.8 188.1 647.8 190.2 646.8C192.2 645.8 194.3 644.8 196.4 643.8C198.4 642.9 200.5 641.9 202.6 641.0C204.6 640.1 206.7 639.2 208.8 638.3C210.9 637.5 211.1 637.9 215.0 636.0C218.9 634.1 227.8 629.3 232.0 627.0C236.2 624.7 238.7 622.8 240.0 622.0"/><path d="M88.0 706.0C89.0 705.2 92.0 703.0 94.0 701.4C96.1 699.7 98.1 697.8 100.1 695.9C102.1 694.0 104.1 691.9 106.1 689.9C108.1 687.9 110.1 685.8 112.2 683.8C114.2 681.9 116.2 679.8 118.2 678.0C120.2 676.1 122.2 674.4 124.2 672.8C126.3 671.2 128.3 669.9 130.3 668.5C132.3 667.1 134.3 665.6 136.3 664.3C138.3 662.9 140.4 661.6 142.4 660.3C144.4 659.1 146.4 657.9 148.4 656.9C150.4 655.9 152.4 655.0 154.4 654.1C156.5 653.2 158.5 652.3 160.5 651.5C162.5 650.6 164.5 649.7 166.5 648.9C168.5 648.1 170.6 647.3 172.6 646.5C174.6 645.7 176.6 644.9 178.6 644.1C180.6 643.4 182.6 642.7 184.7 641.9C186.7 641.2 188.7 640.5 190.7 639.8C192.7 639.0 194.7 638.3 196.7 637.6C198.7 636.9 200.8 636.2 202.8 635.5C204.8 634.8 206.8 634.1 208.8 633.4C210.8 632.7 212.8 632.0 214.9 631.3C216.9 630.6 218.9 629.9 220.9 629.2C222.9 628.5 224.9 627.8 226.9 627.1C229.0 626.4 231.0 625.7 233.0 625.0C235.0 624.3 237.0 623.7 239.0 623.0C241.0 622.3 243.0 621.5 245.1 620.8C247.1 620.1 249.1 619.4 251.1 618.7C253.1 618.0 255.1 617.3 257.1 616.5C259.2 615.8 261.2 615.1 263.2 614.4C265.2 613.7 267.2 613.0 269.2 612.2C271.2 611.5 273.3 610.8 275.3 610.1C277.3 609.4 279.3 608.7 281.3 608.0C283.3 607.3 285.3 606.6 287.3 605.9C289.4 605.2 291.4 604.5 293.4 603.8C295.4 603.0 297.4 602.3 299.4 601.6C301.4 600.8 303.5 600.1 305.5 599.4C307.5 598.6 309.5 597.9 311.5 597.0C313.5 596.2 315.5 595.3 317.6 594.4C319.6 593.5 321.6 592.6 323.6 591.7C325.6 590.8 327.6 589.9 329.6 589.1C331.6 588.2 333.7 587.3 335.7 586.4C337.7 585.5 339.7 584.6 341.7 583.8C343.7 582.9 345.7 582.1 347.8 581.2C349.8 580.4 351.8 579.6 353.8 578.7C355.8 577.9 357.8 577.0 359.8 576.2C361.9 575.3 363.9 574.5 365.9 573.6C367.9 572.8 369.9 572.0 371.9 571.1C373.9 570.3 375.9 569.4 378.0 568.6C380.0 567.7 382.2 567.0 384.0 566.0C385.8 565.1 388.2 563.5 389.0 563.0"/><path d="M95.0 706.0C96.0 704.5 99.0 699.5 101.0 697.2C103.0 694.9 105.0 693.9 107.1 692.2C109.1 690.4 111.1 688.4 113.1 686.6C115.1 684.8 117.1 682.9 119.1 681.2C121.1 679.5 123.1 678.0 125.1 676.5C127.2 675.1 129.2 673.8 131.2 672.5C133.2 671.1 135.2 669.8 137.2 668.5C139.2 667.3 141.2 666.1 143.2 664.9C145.2 663.8 147.3 662.7 149.3 661.8C151.3 660.8 153.3 660.1 155.3 659.2C157.3 658.4 159.3 657.6 161.3 656.8C163.3 656.0 165.3 655.2 167.4 654.4C169.4 653.7 171.4 653.0 173.4 652.2C175.4 651.5 177.4 650.7 179.4 650.0C181.4 649.3 183.4 648.5 185.4 647.8C187.5 647.1 189.5 646.3 191.5 645.6C193.5 644.9 195.5 644.2 197.5 643.4C199.5 642.7 201.5 642.0 203.5 641.3C205.5 640.6 207.5 639.8 209.6 639.1C211.6 638.4 213.6 637.7 215.6 637.0C217.6 636.4 219.6 635.7 221.6 635.1C223.6 634.4 225.6 633.7 227.6 633.0C229.7 632.3 231.7 631.6 233.7 630.9C235.7 630.2 237.7 629.5 239.7 628.7C241.7 628.0 243.7 627.2 245.7 626.5C247.7 625.7 249.8 625.0 251.8 624.2C253.8 623.4 255.8 622.7 257.8 621.9C259.8 621.1 261.8 620.3 263.8 619.5C265.8 618.7 267.8 618.0 269.9 617.2C271.9 616.4 273.9 615.7 275.9 614.9C277.9 614.1 279.9 613.4 281.9 612.6C283.9 611.9 285.9 611.1 287.9 610.4C290.0 609.7 292.0 608.9 294.0 608.2C296.0 607.4 292.3 609.0 300.0 606.0C307.7 603.0 328.4 595.0 340.0 590.0C351.6 585.0 362.5 579.4 369.6 576.0C376.7 572.6 379.3 571.7 382.5 569.5C385.7 567.3 387.9 564.1 389.0 563.0"/><path d="M93.0 706.0C94.0 705.0 97.1 701.8 99.1 700.1C101.1 698.4 103.1 697.4 105.2 695.8C107.2 694.3 109.2 692.4 111.3 690.7C113.3 688.9 115.3 687.0 117.4 685.3C119.4 683.6 121.4 682.1 123.4 680.6C125.5 679.2 127.5 677.9 129.5 676.6C131.6 675.3 133.6 674.0 135.6 672.8C137.6 671.5 139.7 670.3 141.7 669.1C143.7 668.0 145.8 667.0 147.8 666.0C149.8 665.1 151.9 664.3 153.9 663.4C155.9 662.6 157.9 661.9 160.0 661.1C162.0 660.3 164.0 659.5 166.1 658.8C168.1 658.1 170.1 657.4 172.1 656.7C174.2 656.0 176.2 655.3 178.2 654.5C180.3 653.8 182.3 653.1 184.3 652.3C186.4 651.6 188.4 650.8 190.4 650.1C192.4 649.3 194.5 648.6 196.5 647.9C198.5 647.1 200.6 646.4 202.6 645.7C204.6 644.9 206.6 644.2 208.7 643.5C210.7 642.7 212.7 642.0 214.8 641.3C216.8 640.6 218.8 640.0 220.9 639.4C222.9 638.7 224.9 638.1 226.9 637.4C229.0 636.8 231.0 636.2 233.0 635.5C235.1 634.9 237.1 634.2 239.1 633.5C241.1 632.9 243.2 632.2 245.2 631.5C247.2 630.9 249.3 630.2 251.3 629.5C253.3 628.8 255.4 628.2 257.4 627.5C259.4 626.8 261.4 626.1 263.5 625.4C265.5 624.7 267.5 624.0 269.6 623.3C271.6 622.6 273.6 621.9 275.6 621.3C277.7 620.6 279.7 619.9 281.7 619.2C283.8 618.5 285.8 617.8 287.8 617.1C289.9 616.5 291.9 615.7 293.9 615.0C295.9 614.4 292.3 616.0 300.0 613.0C307.7 610.0 325.2 604.0 340.0 597.0C354.8 590.0 375.7 578.0 389.0 571.0C402.3 564.0 408.2 561.0 420.0 555.0C431.8 549.0 446.7 541.8 460.0 535.0C473.3 528.2 486.8 521.1 500.0 514.0C513.2 506.9 532.9 496.0 539.5 492.4"/><path d="M101.0 706.0C102.0 704.9 105.1 701.5 107.1 699.7C109.2 697.8 111.2 696.6 113.3 695.1C115.3 693.6 117.3 691.8 119.4 690.4C121.4 689.0 123.5 687.8 125.5 686.5C127.6 685.3 129.6 684.1 131.6 683.0C133.7 681.8 135.7 680.7 137.8 679.6C139.8 678.5 141.9 677.5 143.9 676.5C145.9 675.6 148.0 674.7 150.0 673.9C152.1 673.1 154.1 672.5 156.2 671.8C158.2 671.1 160.2 670.4 162.3 669.7C164.3 669.1 166.4 668.4 168.4 667.8C170.5 667.2 172.5 666.6 174.5 665.9C176.6 665.3 178.6 664.7 180.7 664.0C182.7 663.3 184.8 662.5 186.8 661.7C188.8 660.9 190.9 660.2 192.9 659.4C195.0 658.6 197.0 657.9 199.1 657.1C201.1 656.3 203.1 655.6 205.2 654.8C207.2 654.1 209.3 653.3 211.3 652.6C213.4 651.8 215.4 651.1 217.4 650.5C219.5 649.9 221.5 649.3 223.6 648.7C225.6 648.1 227.6 647.6 229.7 647.0C231.7 646.4 233.8 645.8 235.8 645.2C237.9 644.6 239.9 644.0 241.9 643.4C244.0 642.7 246.0 642.1 248.1 641.5C250.1 640.9 252.2 640.2 254.2 639.6C256.2 639.0 258.3 638.3 260.3 637.7C262.4 637.0 264.4 636.3 266.5 635.7C268.5 635.0 270.5 634.3 272.6 633.6C274.6 633.0 276.7 632.3 278.7 631.6C280.8 630.9 282.8 630.3 284.8 629.6C286.9 628.9 288.9 628.2 291.0 627.5C293.0 626.9 295.1 626.2 297.1 625.5C299.1 624.9 301.2 624.3 303.2 623.6C305.3 623.0 307.3 622.4 309.4 621.7C311.4 621.0 313.4 620.2 315.5 619.4C317.5 618.6 319.6 617.8 321.6 617.0C323.7 616.2 325.7 615.5 327.7 614.7C329.8 613.9 331.8 613.1 333.9 612.3C335.9 611.6 332.3 612.5 340.0 610.0C347.7 607.5 370.4 600.8 380.0 597.6C389.6 594.4 388.7 593.9 397.3 590.7C405.9 587.5 420.4 583.5 431.9 578.6C443.4 573.7 457.9 566.2 466.5 561.3C475.1 556.4 478.0 552.4 483.8 549.2C489.6 546.0 495.3 545.5 501.1 542.3C506.9 539.1 513.8 534.8 518.4 530.2C523.0 525.6 526.0 519.3 528.8 514.6C531.6 509.9 533.2 505.7 535.0 502.0C536.8 498.3 538.8 494.0 539.5 492.4"/><path d="M95.0 706.0C96.0 705.0 99.1 701.8 101.1 700.2C103.2 698.6 105.2 697.8 107.2 696.3C109.3 694.8 111.3 693.0 113.4 691.3C115.4 689.6 117.5 687.8 119.5 686.3C121.5 684.8 123.6 683.4 125.6 682.1C127.7 680.7 129.7 679.5 131.8 678.3C133.8 677.0 135.8 675.8 137.9 674.6C139.9 673.5 142.0 672.4 144.0 671.3C146.0 670.3 148.1 669.3 150.1 668.5C152.2 667.6 154.2 667.0 156.2 666.2C158.3 665.5 160.3 664.7 162.4 664.0C164.4 663.3 166.5 662.6 168.5 661.9C170.5 661.2 172.6 660.5 174.6 659.8C176.7 659.2 178.7 658.5 180.8 657.8C182.8 657.0 184.8 656.3 186.9 655.5C188.9 654.7 191.0 654.0 193.0 653.2C195.0 652.5 197.1 651.7 199.1 651.0C201.2 650.2 203.2 649.5 205.2 648.7C207.3 648.0 209.3 647.2 211.4 646.5C213.4 645.8 215.5 645.1 217.5 644.4C219.5 643.8 221.6 643.2 223.6 642.6C225.7 642.0 227.7 641.3 229.8 640.7C231.8 640.1 233.8 639.5 235.9 638.8C237.9 638.2 240.0 637.6 242.0 636.9C244.0 636.3 246.1 635.6 248.1 635.0C250.2 634.3 252.2 633.7 254.2 633.0C256.3 632.4 258.3 631.8 260.4 631.1C262.4 630.5 264.5 629.8 266.5 629.1C268.5 628.5 270.6 627.8 272.6 627.2C274.7 626.5 276.7 625.9 278.8 625.2C280.8 624.6 282.8 624.0 284.9 623.3C286.9 622.7 289.0 622.0 291.0 621.4C293.0 620.7 295.1 620.1 297.1 619.5C299.2 618.8 301.2 618.2 303.2 617.6C305.3 617.0 307.3 616.5 309.4 615.8C311.4 615.1 313.5 614.2 315.5 613.5C317.5 612.7 319.6 611.9 321.6 611.1C323.7 610.3 325.7 609.6 327.8 608.8C329.8 608.0 331.8 607.2 333.9 606.4C335.9 605.6 332.3 606.1 340.0 604.0C347.7 601.9 364.7 599.1 380.0 594.0C395.3 588.9 417.5 579.4 431.9 573.4C446.3 567.4 455.0 564.3 466.5 557.9C478.0 551.5 488.8 543.5 501.0 535.0C513.2 526.5 530.2 513.8 540.0 507.0C549.8 500.2 553.3 498.3 560.0 494.0C566.7 489.7 573.3 485.4 580.0 481.0C586.7 476.6 590.0 474.3 600.0 467.5C610.0 460.7 629.2 447.9 640.0 440.0C650.8 432.1 656.2 427.1 664.5 420.0C672.8 412.9 685.8 401.2 690.0 397.5"/><path d="M104.0 706.0C105.0 705.4 108.0 703.6 110.0 702.3C112.0 701.1 114.0 699.6 116.0 698.3C118.0 697.0 120.0 695.7 122.0 694.5C124.0 693.3 126.0 692.4 128.0 691.3C130.0 690.2 132.0 689.1 134.0 688.2C136.0 687.2 138.0 686.3 140.0 685.4C142.0 684.5 144.0 683.5 146.0 682.7C148.0 681.9 150.0 681.4 152.0 680.8C154.0 680.1 156.0 679.5 158.0 678.9C160.0 678.3 162.0 677.8 164.0 677.2C166.0 676.6 168.0 676.1 170.0 675.6C172.0 675.0 174.0 674.5 176.0 673.9C178.0 673.3 180.0 672.8 182.0 672.1C184.0 671.4 186.0 670.5 188.0 669.8C190.0 669.0 192.0 668.3 194.0 667.5C196.0 666.7 198.0 666.0 200.0 665.2C202.0 664.4 204.0 663.7 206.0 662.9C208.0 662.2 210.0 661.4 212.0 660.6C214.0 659.9 216.0 659.3 218.0 658.7C220.0 658.1 222.0 657.7 224.0 657.1C226.0 656.6 228.0 656.1 230.0 655.5C232.0 655.0 234.0 654.5 236.0 654.0C238.0 653.4 240.0 652.8 242.0 652.3C244.0 651.7 246.0 651.1 248.0 650.6C250.0 650.0 252.0 649.4 254.0 648.9C256.0 648.3 258.0 647.7 260.0 647.1C262.0 646.5 264.0 645.9 266.0 645.2C268.0 644.6 270.0 644.0 272.0 643.4C274.0 642.7 276.0 642.1 278.0 641.5C280.0 640.8 282.0 640.2 284.0 639.5C286.0 638.9 288.0 638.2 290.0 637.5C292.0 636.9 294.0 636.2 296.0 635.6C298.0 634.9 300.0 634.4 302.0 633.8C304.0 633.2 306.0 632.6 308.0 631.9C310.0 631.3 312.0 630.5 314.0 629.7C316.0 629.0 318.0 628.2 320.0 627.4C322.0 626.6 324.0 625.8 326.0 625.1C328.0 624.3 330.0 623.5 332.0 622.7C334.0 621.9 336.0 621.2 338.0 620.4C340.0 619.6 342.0 618.8 344.0 617.9C346.0 617.1 348.0 616.3 350.0 615.5C352.0 614.6 354.0 613.8 356.0 613.0C358.0 612.2 360.0 611.5 362.0 610.8C364.0 610.1 366.0 609.5 368.0 608.8C370.0 608.2 372.0 607.5 374.0 606.9C376.0 606.3 369.0 608.5 380.0 605.0C391.0 601.5 424.7 590.7 440.0 586.0C455.3 581.3 461.3 579.7 472.0 577.0C482.7 574.3 492.9 572.2 504.2 570.0C515.5 567.8 530.7 565.7 540.0 563.5C549.3 561.3 553.3 559.4 560.0 556.6C566.7 553.8 573.3 549.9 580.0 546.5C586.7 543.1 592.3 540.8 600.0 536.0C607.7 531.2 619.2 523.1 626.2 518.0C633.2 512.9 637.9 509.9 642.2 505.2C646.5 500.5 649.0 495.0 652.0 490.0C655.0 485.0 657.5 479.4 660.0 475.0C662.5 470.6 664.4 467.9 666.7 463.7C669.0 459.5 671.3 455.1 673.6 449.9C675.9 444.7 678.2 439.0 680.5 432.6C682.8 426.2 685.8 417.3 687.4 411.8C689.0 406.3 689.6 402.2 690.0 399.8C690.4 397.4 690.0 397.9 690.0 397.5"/><path d="M98.0 706.0C99.0 705.5 102.0 703.9 104.0 702.9C106.0 701.8 108.0 700.7 110.0 699.4C112.0 698.2 114.0 696.5 116.0 695.1C118.0 693.7 120.0 692.3 122.0 691.0C124.0 689.8 126.0 688.7 128.0 687.6C130.0 686.4 132.0 685.3 134.0 684.2C136.0 683.2 138.0 682.2 140.0 681.2C142.0 680.2 144.0 679.2 146.0 678.4C148.0 677.6 150.0 676.9 152.0 676.2C154.0 675.6 156.0 674.9 158.0 674.3C160.0 673.6 162.0 673.0 164.0 672.4C166.0 671.8 168.0 671.2 170.0 670.6C172.0 670.0 174.0 669.5 176.0 668.9C178.0 668.2 180.0 667.6 182.0 666.9C184.0 666.2 186.0 665.4 188.0 664.7C190.0 663.9 192.0 663.1 194.0 662.4C196.0 661.6 198.0 660.9 200.0 660.1C202.0 659.4 204.0 658.6 206.0 657.9C208.0 657.1 210.0 656.3 212.0 655.6C214.0 654.9 216.0 654.3 218.0 653.7C220.0 653.1 222.0 652.6 224.0 652.0C226.0 651.5 228.0 650.9 230.0 650.3C232.0 649.8 234.0 649.2 236.0 648.7C238.0 648.1 240.0 647.5 242.0 646.9C244.0 646.3 246.0 645.7 248.0 645.1C250.0 644.5 252.0 643.9 254.0 643.4C256.0 642.8 258.0 642.2 260.0 641.5C262.0 640.9 264.0 640.3 266.0 639.6C268.0 639.0 270.0 638.3 272.0 637.7C274.0 637.1 276.0 636.4 278.0 635.8C280.0 635.2 282.0 634.5 284.0 633.9C286.0 633.3 288.0 632.6 290.0 632.0C292.0 631.4 294.0 630.7 296.0 630.1C298.0 629.5 300.0 628.9 302.0 628.4C304.0 627.8 306.0 627.3 308.0 626.6C310.0 626.0 312.0 625.3 314.0 624.6C316.0 623.9 318.0 623.1 320.0 622.4C322.0 621.6 324.0 620.9 326.0 620.2C328.0 619.5 330.0 618.7 332.0 618.0C334.0 617.3 336.0 616.5 338.0 615.8C340.0 615.1 342.0 614.3 344.0 613.5C346.0 612.8 348.0 612.0 350.0 611.2C352.0 610.5 354.0 609.7 356.0 608.9C358.0 608.2 360.0 607.5 362.0 606.8C364.0 606.1 366.0 605.5 368.0 604.9C370.0 604.2 372.0 603.6 374.0 602.9C376.0 602.3 369.0 604.2 380.0 601.0C391.0 597.8 423.3 589.3 440.0 584.0C456.7 578.7 468.3 573.7 480.0 569.0C491.7 564.3 500.0 560.4 510.0 556.0C520.0 551.6 531.7 546.3 540.0 542.7C548.3 539.1 553.3 537.5 560.0 534.4C566.7 531.3 573.3 527.7 580.0 524.0C586.7 520.3 593.3 516.5 600.0 512.0C606.7 507.5 613.3 502.2 620.0 497.0C626.7 491.8 632.9 486.3 640.0 480.5C647.1 474.7 655.8 468.4 662.5 462.0C669.2 455.6 673.8 448.2 680.0 442.0C686.2 435.8 693.3 431.1 700.0 424.5C706.7 417.9 713.3 409.5 720.0 402.5C726.7 395.5 733.3 389.2 740.0 382.5C746.7 375.8 753.3 369.4 760.0 362.0C766.7 354.6 773.3 346.5 780.0 338.0C786.7 329.5 792.5 322.7 800.0 311.0C807.5 299.3 818.1 279.4 825.0 267.7C831.9 256.0 838.8 245.4 841.6 241.0"/><path d="M106.0 707.5C107.2 706.8 110.7 704.9 113.0 703.5C115.3 702.1 116.6 700.9 120.0 699.0C123.4 697.1 129.2 694.3 133.5 692.3C137.8 690.3 141.6 688.5 146.0 687.0C150.4 685.5 154.3 684.5 160.0 683.0C165.7 681.5 170.8 681.1 180.0 678.0C189.2 674.9 205.5 667.7 215.0 664.5C224.5 661.3 229.7 660.9 237.0 659.0C244.3 657.1 249.3 655.8 259.0 653.0C268.7 650.2 286.6 644.5 295.0 642.0C303.4 639.5 301.9 640.6 309.4 638.3C316.9 636.0 331.8 630.9 340.0 628.0C348.2 625.1 352.1 623.2 358.8 621.0C365.5 618.8 371.8 617.1 380.0 615.0C388.2 612.9 394.7 611.1 408.0 608.6C421.3 606.1 444.7 602.6 460.0 600.0C475.3 597.4 486.7 595.5 500.0 593.0C513.3 590.5 530.0 587.2 540.0 585.3C550.0 583.3 553.3 582.7 560.0 581.3C566.7 579.9 573.3 578.0 580.0 577.0C586.7 576.0 593.3 576.5 600.0 575.5C606.7 574.5 613.3 572.6 620.0 571.0C626.7 569.4 635.2 567.5 640.0 566.0C644.8 564.5 643.9 563.9 648.6 562.0C653.3 560.1 663.2 557.0 668.4 554.7C673.6 552.5 675.2 551.1 680.0 548.5C684.8 545.9 691.5 542.3 697.3 539.3C703.1 536.3 708.9 533.8 714.6 530.6C720.4 527.4 726.6 523.6 731.8 520.2C737.0 516.8 741.1 513.7 745.7 510.0C750.3 506.3 755.2 502.8 759.5 497.8C763.8 492.8 767.9 485.1 771.3 480.0C774.7 474.9 777.4 471.2 780.0 467.0C782.6 462.8 784.8 459.2 787.0 455.0C789.2 450.8 791.2 446.2 793.0 442.0C794.8 437.8 796.0 434.3 797.7 430.0C799.4 425.7 801.3 420.5 803.0 416.0C804.7 411.5 806.5 407.1 808.0 402.8C809.5 398.5 810.8 394.1 812.0 390.0C813.2 385.9 813.8 384.2 815.5 378.1C817.2 372.0 820.0 361.7 822.0 353.5C824.0 345.3 825.8 337.0 827.5 328.8C829.2 320.6 831.0 312.3 832.5 304.1C834.0 295.9 835.4 287.6 836.7 279.4C838.1 271.2 839.7 261.1 840.6 254.7C841.5 248.3 841.7 243.3 841.9 241.0"/></g><g><defs><path id="bp0" d="M88.3 706.0C89.3 701.5 92.4 685.2 94.4 679.0C96.4 672.7 98.4 671.4 100.4 668.3C102.4 665.2 104.5 663.0 106.5 660.4C108.5 657.9 110.5 655.4 112.5 653.1C114.5 650.7 116.5 648.5 118.5 646.3C120.6 644.0 122.6 641.7 124.6 639.4C126.6 637.1 128.6 634.4 130.6 632.2C132.6 630.0 134.7 628.1 136.7 626.1C138.7 624.1 140.7 622.1 142.7 620.2C144.7 618.3 146.7 616.4 148.8 614.6C150.8 612.9 152.8 611.3 154.8 609.7C156.8 608.0 158.8 606.5 160.8 604.9C162.9 603.4 164.9 601.9 166.9 600.4C168.9 598.9 170.9 597.5 172.9 596.0C174.9 594.6 176.9 593.2 179.0 591.7C181.0 590.1 183.0 588.4 185.0 586.7C187.0 585.1 189.0 583.4 191.0 581.7C193.1 580.1 195.1 578.2 197.1 576.7C199.1 575.3 201.1 574.3 203.1 573.1C205.1 571.9 207.2 570.6 209.2 569.4C211.2 568.2 213.2 566.9 215.2 565.8C217.2 564.7 219.2 563.9 221.3 562.9C223.3 561.9 225.3 560.9 227.3 560.0C229.3 559.0 231.3 558.0 233.3 557.1C235.3 556.1 237.4 555.1 239.4 554.1C241.4 553.1 243.4 552.1 245.4 551.1C247.4 550.1 249.4 549.1 251.5 548.1C253.5 547.0 255.5 546.0 257.5 545.0C259.5 544.0 261.5 543.0 263.5 542.1C265.6 541.1 267.6 540.1 269.6 539.1C271.6 538.1 273.6 537.2 275.6 536.2C277.6 535.2 279.7 534.2 281.7 533.2C283.7 532.2 285.7 531.3 287.7 530.3C289.7 529.2 291.7 528.1 293.8 526.9C295.8 525.7 297.8 524.4 299.8 523.2C301.8 521.9 303.8 520.5 305.8 519.2C307.8 517.9 309.9 516.6 311.9 515.3C313.9 514.0 315.9 512.7 317.9 511.5C319.9 510.2 321.9 509.0 324.0 507.9C326.0 506.7 329.0 505.2 330.0 504.6"/><path id="bp1" d="M89.0 706.0C90.0 702.1 93.0 688.2 95.0 682.6C97.0 677.1 99.0 675.8 101.0 672.9C103.0 669.9 105.0 667.5 107.0 665.0C109.0 662.4 111.0 659.9 113.1 657.5C115.1 655.2 117.1 653.0 119.1 650.8C121.1 648.5 123.1 646.3 125.1 644.0C127.1 641.7 129.1 639.3 131.1 637.1C133.1 634.9 135.2 633.0 137.2 631.0C139.2 629.0 141.2 627.0 143.2 625.1C145.2 623.2 147.2 621.3 149.2 619.5C151.2 617.7 153.2 616.1 155.2 614.4C157.2 612.7 159.3 611.1 161.3 609.5C163.3 608.0 165.3 606.6 167.3 605.1C169.3 603.7 171.3 602.3 173.3 600.9C175.3 599.4 177.3 598.1 179.3 596.6C181.4 595.0 183.4 593.3 185.4 591.6C187.4 589.9 189.4 588.2 191.4 586.5C193.4 584.9 195.4 583.0 197.4 581.6C199.4 580.2 201.4 579.2 203.4 578.0C205.5 576.8 207.5 575.6 209.5 574.4C211.5 573.2 213.5 572.0 215.5 570.9C217.5 569.8 219.5 568.9 221.5 567.9C223.5 566.9 225.5 566.0 227.6 565.0C229.6 564.0 231.6 563.0 233.6 562.0C235.6 561.0 237.6 560.0 239.6 559.1C241.6 558.1 243.6 557.1 245.6 556.1C247.6 555.2 249.7 554.2 251.7 553.2C253.7 552.2 255.7 551.2 257.7 550.3C259.7 549.3 261.7 548.4 263.7 547.5C265.7 546.6 267.7 545.7 269.7 544.8C271.7 543.9 273.8 543.1 275.8 542.2C277.8 541.3 279.8 540.4 281.8 539.5C283.8 538.6 285.8 537.8 287.8 536.7C289.8 535.6 291.8 534.4 293.8 533.0C295.9 531.6 297.9 529.8 299.9 528.2C301.9 526.5 303.9 524.7 305.9 522.9C307.9 521.2 309.9 519.3 311.9 517.6C313.9 515.9 315.9 514.2 317.9 512.6C320.0 511.0 322.0 509.5 324.0 508.2C326.0 506.9 329.0 505.2 330.0 504.6"/><path id="bp2" d="M89.4 706.0C90.4 702.6 93.5 690.5 95.5 685.5C97.5 680.6 99.6 679.1 101.6 676.2C103.6 673.3 105.7 670.8 107.7 668.2C109.7 665.6 111.8 663.0 113.8 660.6C115.8 658.3 117.8 656.1 119.9 653.9C121.9 651.6 123.9 649.4 126.0 647.1C128.0 644.9 130.0 642.6 132.1 640.4C134.1 638.2 136.1 636.1 138.1 634.1C140.2 632.1 142.2 630.2 144.2 628.3C146.3 626.4 148.3 624.4 150.3 622.6C152.4 620.8 154.4 619.0 156.4 617.3C158.4 615.7 160.5 614.0 162.5 612.4C164.5 610.9 166.6 609.6 168.6 608.1C170.6 606.7 172.7 605.3 174.7 603.9C176.7 602.5 178.7 601.1 180.8 599.5C182.8 597.9 184.8 596.1 186.9 594.4C188.9 592.6 190.9 590.8 193.0 589.2C195.0 587.6 197.0 585.9 199.0 584.6C201.1 583.2 203.1 582.2 205.1 581.0C207.2 579.8 209.2 578.6 211.2 577.4C213.3 576.2 215.3 575.1 217.3 574.0C219.3 573.0 221.4 572.0 223.4 571.0C225.4 570.0 227.5 569.0 229.5 568.0C231.5 567.0 233.5 566.0 235.6 565.0C237.6 564.0 239.6 563.0 241.7 562.0C243.7 561.1 245.7 560.1 247.8 559.1C249.8 558.2 251.8 557.2 253.8 556.2C255.9 555.3 257.9 554.3 259.9 553.4C262.0 552.5 264.0 551.7 266.0 550.9C268.1 550.0 270.1 549.2 272.1 548.4C274.1 547.5 276.2 546.7 278.2 545.9C280.2 545.0 282.3 544.2 284.3 543.3C286.3 542.5 288.4 541.7 290.4 540.8C292.4 539.9 294.4 539.1 296.5 538.0C298.5 537.0 300.5 535.8 302.6 534.7C304.6 533.5 306.6 532.4 308.7 531.3C310.7 530.1 312.7 529.0 314.7 527.9C316.8 526.8 318.8 525.6 320.8 524.5C322.9 523.5 324.9 522.5 326.9 521.5C329.0 520.4 331.0 519.4 333.0 518.4C335.0 517.3 337.1 516.3 339.1 515.3C341.1 514.2 343.2 513.1 345.2 512.0C347.2 510.9 349.3 509.7 351.3 508.6C353.3 507.4 355.3 506.4 357.4 505.0C359.4 503.7 361.4 502.2 363.5 500.5C365.5 498.8 367.5 496.8 369.6 494.8C371.6 492.8 373.6 490.7 375.6 488.7C377.7 486.7 379.7 484.7 381.7 482.8C383.8 480.9 385.8 478.9 387.8 477.1C389.9 475.4 391.9 473.7 393.9 472.2C395.9 470.6 399.0 468.7 400.0 468.0"/><path id="bp3" d="M89.6 706.0C90.6 702.8 93.7 691.6 95.7 686.9C97.7 682.3 99.7 680.7 101.7 677.9C103.7 675.0 105.7 672.4 107.7 669.8C109.8 667.3 111.8 664.7 113.8 662.4C115.8 660.0 117.8 657.9 119.8 655.6C121.8 653.4 123.8 651.2 125.9 649.0C127.9 646.8 129.9 644.5 131.9 642.4C133.9 640.2 135.9 638.1 137.9 636.1C139.9 634.1 142.0 632.3 144.0 630.3C146.0 628.4 148.0 626.5 150.0 624.7C152.0 622.8 154.0 621.1 156.0 619.3C158.1 617.6 160.1 615.9 162.1 614.4C164.1 612.9 166.1 611.6 168.1 610.2C170.1 608.8 172.1 607.4 174.2 606.0C176.2 604.6 178.2 603.3 180.2 601.8C182.2 600.2 184.2 598.3 186.2 596.6C188.2 594.9 190.3 593.1 192.3 591.5C194.3 589.8 196.3 588.1 198.3 586.7C200.3 585.3 202.3 584.3 204.3 583.1C206.4 582.0 208.4 580.8 210.4 579.6C212.4 578.5 214.4 577.3 216.4 576.2C218.4 575.1 220.4 574.2 222.5 573.2C224.5 572.2 226.5 571.2 228.5 570.2C230.5 569.2 232.5 568.2 234.5 567.2C236.5 566.2 238.6 565.2 240.6 564.3C242.6 563.3 244.6 562.4 246.6 561.4C248.6 560.5 250.6 559.5 252.6 558.6C254.7 557.6 256.7 556.6 258.7 555.7C260.7 554.8 262.7 554.1 264.7 553.3C266.7 552.5 268.7 551.7 270.8 550.9C272.8 550.1 274.8 549.3 276.8 548.5C278.8 547.7 280.8 546.9 282.8 546.1C284.8 545.3 286.9 544.5 288.9 543.7C290.9 542.8 292.9 542.2 294.9 541.2C296.9 540.2 298.9 538.9 300.9 537.8C303.0 536.7 305.0 535.6 307.0 534.4C309.0 533.3 311.0 532.2 313.0 531.0C315.0 529.9 317.0 528.7 319.1 527.7C321.1 526.6 323.1 525.6 325.1 524.6C327.1 523.5 329.1 522.5 331.1 521.5C333.1 520.5 335.2 519.5 337.2 518.4C339.2 517.4 341.2 516.3 343.2 515.2C345.2 514.1 347.2 513.0 349.2 511.9C351.3 510.7 353.3 509.6 355.3 508.4C357.3 507.3 359.3 506.2 361.3 505.0C363.3 503.8 365.3 502.5 367.4 501.2C369.4 499.9 371.4 498.5 373.4 497.1C375.4 495.7 377.4 494.3 379.4 492.9C381.4 491.5 383.5 490.2 385.5 488.8C387.5 487.4 389.5 486.0 391.5 484.7C393.5 483.4 395.5 482.2 397.5 480.9C399.6 479.6 401.6 478.3 403.6 477.0C405.6 475.7 407.6 474.5 409.6 473.2C411.6 471.9 413.6 470.6 415.7 469.3C417.7 468.1 419.7 466.8 421.7 465.6C423.7 464.4 425.7 463.2 427.7 462.1C429.7 461.0 431.8 459.9 433.8 458.9C435.8 458.0 437.8 457.1 439.8 456.2C441.8 455.4 443.8 454.6 445.8 453.8C447.9 453.0 449.9 452.3 451.9 451.6C453.9 450.8 455.9 450.0 457.9 449.2C459.9 448.3 461.9 447.4 464.0 446.4C466.0 445.4 469.0 443.7 470.0 443.2"/><path id="bp4" d="M90.2 706.0C91.2 703.4 94.3 694.6 96.4 690.6C98.4 686.5 100.5 684.6 102.6 681.8C104.6 678.9 106.7 676.1 108.7 673.5C110.8 670.8 112.8 668.3 114.9 665.9C116.9 663.5 119.0 661.4 121.1 659.1C123.1 656.9 125.2 654.7 127.2 652.5C129.3 650.3 131.3 648.1 133.4 645.9C135.5 643.7 137.5 641.5 139.6 639.4C141.6 637.4 143.7 635.7 145.7 633.8C147.8 631.9 149.9 629.8 151.9 627.9C154.0 626.0 156.0 624.0 158.1 622.3C160.1 620.5 162.2 619.0 164.3 617.6C166.3 616.1 168.4 614.8 170.4 613.4C172.5 612.0 174.5 610.6 176.6 609.2C178.7 607.7 180.7 606.1 182.8 604.5C184.8 602.8 186.9 600.9 188.9 599.2C191.0 597.4 193.0 595.4 195.1 593.8C197.2 592.3 199.2 591.0 201.3 589.7C203.3 588.5 205.4 587.4 207.4 586.2C209.5 585.0 211.6 583.8 213.6 582.6C215.7 581.5 217.7 580.5 219.8 579.4C221.8 578.4 223.9 577.3 226.0 576.3C228.0 575.3 230.1 574.2 232.1 573.2C234.2 572.1 236.2 571.1 238.3 570.1C240.4 569.1 242.4 568.2 244.5 567.3C246.5 566.3 248.6 565.4 250.6 564.4C252.7 563.5 254.8 562.6 256.8 561.6C258.9 560.5 260.9 559.4 263.0 558.3C265.0 557.3 267.1 556.1 269.1 555.1C271.2 554.1 273.3 553.1 275.3 552.3C277.4 551.5 279.4 550.8 281.5 550.3C283.5 549.8 285.6 549.5 287.7 549.2C289.7 549.0 291.8 549.0 293.8 549.0C295.9 548.9 299.0 549.0 300.0 549.0"/><path id="bp5" d="M90.4 706.0C91.4 703.6 94.5 695.6 96.5 691.8C98.6 688.0 100.6 685.9 102.6 683.1C104.7 680.3 106.7 677.5 108.8 674.9C110.8 672.2 112.8 669.7 114.9 667.3C116.9 664.9 119.0 662.8 121.0 660.6C123.1 658.4 125.1 656.2 127.1 654.0C129.2 651.9 131.2 649.7 133.3 647.5C135.3 645.4 137.4 643.1 139.4 641.1C141.4 639.1 143.5 637.4 145.5 635.5C147.6 633.6 149.6 631.5 151.7 629.6C153.7 627.7 155.7 625.6 157.8 623.9C159.8 622.2 161.9 620.7 163.9 619.2C166.0 617.7 168.0 616.4 170.0 615.0C172.1 613.6 174.1 612.3 176.2 610.9C178.2 609.4 180.3 608.0 182.3 606.3C184.3 604.7 186.4 602.8 188.4 601.0C190.5 599.2 192.5 597.3 194.6 595.7C196.6 594.1 198.6 592.8 200.7 591.5C202.7 590.2 204.8 589.2 206.8 588.0C208.8 586.8 210.9 585.6 212.9 584.5C215.0 583.4 217.0 582.3 219.1 581.2C221.1 580.2 223.1 579.2 225.2 578.1C227.2 577.1 229.3 576.0 231.3 575.0C233.4 574.0 235.4 572.9 237.4 571.9C239.5 570.9 241.5 570.0 243.6 569.1C245.6 568.2 247.7 567.3 249.7 566.3C251.7 565.4 253.8 564.4 255.8 563.5C257.9 562.7 259.9 561.8 262.0 561.1C264.0 560.3 266.0 559.6 268.1 558.9C270.1 558.2 272.2 557.5 274.2 556.8C276.3 556.1 278.3 555.4 280.3 554.7C282.4 554.0 284.4 553.3 286.5 552.5C288.5 551.8 290.6 551.3 292.6 550.4C294.6 549.5 296.7 548.5 298.7 547.4C300.8 546.3 302.8 545.0 304.9 543.9C306.9 542.7 308.9 541.5 311.0 540.3C313.0 539.1 315.1 538.0 317.1 536.8C319.1 535.6 321.2 534.3 323.2 533.1C325.3 531.8 327.3 530.6 329.4 529.3C331.4 527.9 333.4 526.6 335.5 525.2C337.5 523.7 339.6 522.4 341.6 520.7C343.7 519.1 345.7 517.1 347.7 515.2C349.8 513.3 351.8 511.3 353.9 509.4C355.9 507.5 359.0 504.9 360.0 504.0"/><path id="bp6" d="M90.7 706.0C91.7 704.0 94.7 697.6 96.8 694.3C98.8 690.9 100.8 688.6 102.8 685.8C104.8 683.1 106.8 680.2 108.8 677.6C110.8 675.0 112.9 672.5 114.9 670.2C116.9 667.8 118.9 665.7 120.9 663.5C122.9 661.4 124.9 659.3 127.0 657.2C129.0 655.1 131.0 653.0 133.0 650.8C135.0 648.7 137.0 646.4 139.0 644.4C141.0 642.4 143.1 640.8 145.1 638.9C147.1 637.0 149.1 635.0 151.1 633.0C153.1 631.1 155.1 629.1 157.1 627.3C159.2 625.5 161.2 623.9 163.2 622.4C165.2 620.9 167.2 619.7 169.2 618.4C171.2 617.0 173.3 615.7 175.3 614.4C177.3 613.0 179.3 611.7 181.3 610.1C183.3 608.5 185.3 606.6 187.3 604.8C189.4 603.1 191.4 601.2 193.4 599.6C195.4 597.9 197.4 596.4 199.4 595.0C201.4 593.7 203.4 592.7 205.5 591.6C207.5 590.5 209.5 589.3 211.5 588.2C213.5 587.1 215.5 586.0 217.5 584.9C219.5 583.8 221.6 582.8 223.6 581.8C225.6 580.8 227.6 579.7 229.6 578.7C231.6 577.7 233.6 576.6 235.7 575.6C237.7 574.6 239.7 573.7 241.7 572.8C243.7 571.9 245.7 571.0 247.7 570.1C249.7 569.2 251.8 568.2 253.8 567.2C255.8 566.3 257.8 565.2 259.8 564.3C261.8 563.4 263.8 562.6 265.8 561.7C267.9 560.8 269.9 559.9 271.9 558.9C273.9 557.9 275.9 556.9 277.9 555.9C279.9 554.8 281.9 553.7 284.0 552.7C286.0 551.7 289.0 550.2 290.0 549.7"/><path id="bp7" d="M91.1 706.0C92.1 704.5 95.2 699.9 97.3 697.0C99.3 694.1 101.3 691.4 103.4 688.6C105.4 685.8 107.5 682.9 109.5 680.2C111.5 677.6 113.6 675.0 115.6 672.7C117.7 670.3 119.7 668.2 121.8 666.0C123.8 663.9 125.8 661.9 127.9 659.8C129.9 657.6 132.0 655.5 134.0 653.4C136.0 651.2 138.1 648.8 140.1 646.8C142.2 644.8 144.2 643.3 146.3 641.4C148.3 639.4 150.3 637.3 152.4 635.3C154.4 633.3 156.5 631.1 158.5 629.3C160.5 627.5 162.6 626.2 164.6 624.8C166.7 623.4 168.7 622.1 170.8 620.8C172.8 619.4 174.8 618.2 176.9 616.7C178.9 615.3 181.0 613.7 183.0 612.0C185.0 610.4 187.1 608.5 189.1 606.7C191.2 604.9 193.2 602.9 195.3 601.3C197.3 599.7 199.3 598.5 201.4 597.3C203.4 596.1 205.5 595.0 207.5 593.9C209.5 592.7 211.6 591.6 213.6 590.4C215.7 589.3 217.7 588.3 219.8 587.2C221.8 586.1 223.8 585.1 225.9 584.0C227.9 583.0 230.0 581.9 232.0 580.9C234.0 579.8 236.1 578.7 238.1 577.8C240.2 576.8 242.2 576.0 244.3 575.1C246.3 574.2 248.3 573.3 250.4 572.4C252.4 571.5 254.5 570.5 256.5 569.7C258.5 568.9 260.6 568.2 262.6 567.5C264.7 566.9 266.7 566.3 268.8 565.7C270.8 565.1 272.8 564.5 274.9 563.9C276.9 563.3 279.0 562.7 281.0 562.1C283.0 561.5 285.1 561.0 287.1 560.2C289.2 559.5 291.2 559.0 293.3 557.8C295.3 556.7 297.3 555.1 299.4 553.4C301.4 551.7 303.5 549.8 305.5 547.9C307.5 546.0 309.6 544.0 311.6 542.1C313.7 540.2 315.7 538.2 317.8 536.4C319.8 534.6 321.8 532.8 323.9 531.3C325.9 529.8 329.0 528.0 330.0 527.3"/><path id="bp8" d="M91.3 706.0C92.3 704.7 95.3 701.0 97.3 698.4C99.3 695.7 101.3 692.8 103.3 690.1C105.4 687.3 107.4 684.4 109.4 681.8C111.4 679.2 113.4 676.7 115.4 674.4C117.4 672.0 119.4 669.9 121.4 667.8C123.4 665.7 125.4 663.7 127.4 661.7C129.5 659.6 131.5 657.6 133.5 655.4C135.5 653.3 137.5 651.0 139.5 649.0C141.5 647.0 143.5 645.4 145.5 643.5C147.5 641.6 149.5 639.6 151.5 637.6C153.6 635.6 155.6 633.4 157.6 631.6C159.6 629.8 161.6 628.3 163.6 626.8C165.6 625.4 167.6 624.2 169.6 622.9C171.6 621.6 173.6 620.3 175.6 619.0C177.7 617.6 179.7 616.3 181.7 614.7C183.7 613.1 185.7 611.1 187.7 609.4C189.7 607.6 191.7 605.7 193.7 604.0C195.7 602.4 197.7 600.9 199.7 599.6C201.8 598.3 203.8 597.4 205.8 596.3C207.8 595.2 209.8 594.0 211.8 592.9C213.8 591.8 215.8 590.7 217.8 589.7C219.8 588.6 221.8 587.6 223.8 586.6C225.9 585.6 227.9 584.6 229.9 583.6C231.9 582.6 233.9 581.5 235.9 580.6C237.9 579.7 239.9 578.9 241.9 578.1C243.9 577.2 245.9 576.4 247.9 575.6C250.0 574.8 252.0 573.9 254.0 573.1C256.0 572.3 259.0 571.1 260.0 570.7"/><path id="bp9" d="M88.5 706.0C89.5 701.6 92.6 685.9 94.6 679.8C96.6 673.7 98.6 672.5 100.7 669.5C102.7 666.4 104.7 664.1 106.7 661.5C108.8 659.0 110.8 656.5 112.8 654.1C114.8 651.7 116.9 649.6 118.9 647.3C120.9 645.0 122.9 642.7 125.0 640.4C127.0 638.1 129.0 635.5 131.1 633.3C133.1 631.1 135.1 629.1 137.1 627.1C139.2 625.1 141.2 623.2 143.2 621.3C145.2 619.3 147.3 617.4 149.3 615.6C151.3 613.8 153.3 612.3 155.4 610.6C157.4 609.0 159.4 607.4 161.4 605.8C163.5 604.3 165.5 602.8 167.5 601.3C169.5 599.9 171.6 598.4 173.6 597.0C175.6 595.5 177.6 594.2 179.7 592.6C181.7 591.0 183.7 589.2 185.7 587.6C187.8 585.9 189.8 584.2 191.8 582.5C193.9 580.9 195.9 579.1 197.9 577.7C199.9 576.2 202.0 575.2 204.0 574.0C206.0 572.8 208.0 571.5 210.1 570.3C212.1 569.1 214.1 567.9 216.1 566.8C218.2 565.7 220.2 564.8 222.2 563.9C224.2 562.9 226.3 561.9 228.3 560.9C230.3 559.9 232.3 559.0 234.4 558.0C236.4 557.0 238.4 556.0 240.4 555.0C242.5 554.0 244.5 553.0 246.5 552.0C248.5 551.0 250.6 549.9 252.6 548.9C254.6 547.9 256.6 546.9 258.7 545.9C260.7 544.9 262.7 544.0 264.8 543.0C266.8 542.1 268.8 541.1 270.8 540.1C272.9 539.2 274.9 538.2 276.9 537.2C278.9 536.3 281.0 535.3 283.0 534.4C285.0 533.4 287.0 532.4 289.1 531.5C291.1 530.5 293.1 529.5 295.1 528.5C297.2 527.5 299.2 526.3 301.2 525.2C303.2 524.1 305.3 523.1 307.3 522.0C309.3 520.9 311.3 519.8 313.4 518.7C315.4 517.6 317.4 516.5 319.4 515.5C321.5 514.4 323.5 513.4 325.5 512.4C327.6 511.3 329.6 510.3 331.6 509.3C333.6 508.2 335.7 507.2 337.7 506.2C339.7 505.1 341.7 504.1 343.8 503.0C345.8 501.9 347.8 500.9 349.8 499.8C351.9 498.6 353.9 497.5 355.9 496.4C357.9 495.3 360.0 494.2 362.0 493.0C364.0 491.9 366.0 490.7 368.1 489.5C370.1 488.4 372.1 487.1 374.1 485.9C376.2 484.7 378.2 483.5 380.2 482.4C382.2 481.2 384.3 480.0 386.3 478.8C388.3 477.6 390.4 476.4 392.4 475.2C394.4 474.1 396.4 472.9 398.5 471.7C400.5 470.6 402.5 469.4 404.5 468.2C406.6 467.1 408.6 465.9 410.6 464.7C412.6 463.6 414.7 462.4 416.7 461.2C418.7 460.0 420.7 458.9 422.8 457.7C424.8 456.5 426.8 455.2 428.8 454.0C430.9 452.8 432.9 451.6 434.9 450.4C436.9 449.2 439.0 448.0 441.0 446.8C443.0 445.6 445.0 444.4 447.1 443.2C449.1 442.0 451.1 440.8 453.1 439.6C455.2 438.3 457.2 437.0 459.2 435.7C461.3 434.5 463.3 433.1 465.3 431.8C467.3 430.5 469.4 429.3 471.4 427.9C473.4 426.6 475.4 425.4 477.5 424.0C479.5 422.7 481.5 421.3 483.5 419.8C485.6 418.4 487.6 416.9 489.6 415.4C491.6 413.9 493.7 412.3 495.7 410.8C497.7 409.2 499.7 407.7 501.8 406.1C503.8 404.5 505.8 402.9 507.8 401.3C509.9 399.8 511.9 398.2 513.9 396.8C515.9 395.3 519.0 393.2 520.0 392.5"/><path id="bp10" d="M89.9 706.0C90.9 703.1 93.9 692.9 95.9 688.5C98.0 684.0 100.0 682.4 102.0 679.6C104.0 676.7 106.1 674.0 108.1 671.4C110.1 668.8 112.1 666.3 114.1 663.9C116.2 661.5 118.2 659.4 120.2 657.2C122.2 655.0 124.3 652.8 126.3 650.6C128.3 648.4 130.3 646.2 132.3 644.0C134.4 641.9 136.4 639.7 138.4 637.7C140.4 635.7 142.5 633.9 144.5 632.0C146.5 630.1 148.5 628.1 150.5 626.2C152.6 624.4 154.6 622.5 156.6 620.8C158.6 619.1 160.7 617.4 162.7 615.9C164.7 614.4 166.7 613.1 168.8 611.7C170.8 610.3 172.8 608.9 174.8 607.5C176.8 606.1 178.9 604.8 180.9 603.2C182.9 601.6 184.9 599.7 187.0 598.0C189.0 596.3 191.0 594.4 193.0 592.8C195.0 591.2 197.1 589.5 199.1 588.2C201.1 586.8 203.1 585.8 205.2 584.7C207.2 583.5 209.2 582.3 211.2 581.1C213.2 580.0 215.3 578.9 217.3 577.8C219.3 576.7 221.3 575.8 223.4 574.8C225.4 573.7 227.4 572.7 229.4 571.7C231.4 570.7 233.5 569.6 235.5 568.7C237.5 567.7 239.5 566.7 241.6 565.8C243.6 564.8 245.6 563.9 247.6 562.9C249.7 562.0 251.7 561.0 253.7 560.1C255.7 559.2 257.7 558.2 259.8 557.3C261.8 556.5 263.8 555.8 265.8 555.0C267.9 554.2 269.9 553.5 271.9 552.7C273.9 551.9 275.9 551.2 278.0 550.4C280.0 549.6 282.0 548.8 284.0 548.1C286.1 547.3 288.1 546.6 290.1 545.7C292.1 544.9 294.1 544.2 296.2 543.2C298.2 542.2 300.2 540.9 302.2 539.7C304.3 538.6 306.3 537.4 308.3 536.3C310.3 535.1 312.4 534.0 314.4 532.9C316.4 531.7 318.4 530.5 320.4 529.5C322.5 528.4 324.5 527.4 326.5 526.4C328.5 525.4 330.6 524.3 332.6 523.3C334.6 522.3 336.6 521.3 338.6 520.3C340.7 519.2 342.7 518.1 344.7 516.9C346.7 515.8 348.8 514.6 350.8 513.5C352.8 512.3 354.8 511.2 356.8 510.0C358.9 508.8 360.9 507.8 362.9 506.5C364.9 505.2 367.0 503.9 369.0 502.5C371.0 501.1 373.0 499.6 375.1 498.2C377.1 496.7 379.1 495.3 381.1 493.9C383.1 492.5 385.2 491.0 387.2 489.6C389.2 488.2 391.2 486.8 393.3 485.5C395.3 484.2 397.3 482.9 399.3 481.6C401.3 480.2 403.4 478.9 405.4 477.6C407.4 476.3 409.4 475.0 411.5 473.7C413.5 472.3 415.5 471.0 417.5 469.7C419.5 468.5 421.6 467.3 423.6 466.2C425.6 465.1 427.6 464.1 429.7 463.2C431.7 462.2 433.7 461.2 435.7 460.3C437.8 459.4 439.8 458.5 441.8 457.6C443.8 456.8 445.8 455.9 447.9 455.0C449.9 454.1 451.9 453.3 453.9 452.3C456.0 451.3 459.0 449.6 460.0 449.1"/><path id="bp11" d="M88.2 706.0C89.2 701.3 92.2 684.4 94.3 677.9C96.3 671.4 98.3 670.0 100.4 666.8C102.4 663.7 104.4 661.5 106.5 659.0C108.5 656.4 110.6 653.9 112.6 651.5C114.6 649.2 116.7 647.0 118.7 644.7C120.7 642.4 122.8 640.1 124.8 637.7C126.8 635.3 128.9 632.6 130.9 630.4C132.9 628.2 135.0 626.3 137.0 624.3C139.0 622.3 141.1 620.3 143.1 618.4C145.1 616.4 147.2 614.5 149.2 612.7C151.2 611.0 153.3 609.4 155.3 607.8C157.3 606.2 159.4 604.7 161.4 603.1C163.5 601.6 165.5 600.1 167.5 598.5C169.6 597.0 171.6 595.6 173.6 594.1C175.7 592.6 177.7 591.2 179.7 589.6C181.8 588.1 183.8 586.3 185.8 584.6C187.9 582.9 189.9 581.2 191.9 579.6C194.0 577.9 196.0 576.2 198.0 574.8C200.1 573.3 202.1 572.3 204.1 571.1C206.2 569.8 208.2 568.5 210.3 567.3C212.3 566.1 214.3 564.9 216.4 563.8C218.4 562.7 220.4 561.8 222.5 560.9C224.5 559.9 226.5 558.9 228.6 557.9C230.6 557.0 232.6 556.0 234.7 555.0C236.7 554.0 238.7 553.0 240.8 552.0C242.8 551.0 244.8 549.9 246.9 548.9C248.9 547.9 250.9 546.9 253.0 545.8C255.0 544.8 257.1 543.8 259.1 542.7C261.1 541.7 263.2 540.7 265.2 539.7C267.2 538.7 269.3 537.7 271.3 536.7C273.3 535.6 275.4 534.6 277.4 533.6C279.4 532.6 281.5 531.6 283.5 530.6C285.5 529.6 287.6 528.6 289.6 527.5C291.6 526.5 293.7 525.4 295.7 524.4C297.7 523.3 299.8 522.2 301.8 521.1C303.8 520.1 305.9 519.0 307.9 517.9C310.0 516.8 312.0 515.8 314.0 514.7C316.1 513.6 318.1 512.5 320.1 511.5C322.2 510.4 324.2 509.4 326.2 508.4C328.3 507.3 330.3 506.3 332.3 505.2C334.4 504.2 336.4 503.2 338.4 502.1C340.5 501.1 342.5 500.0 344.5 499.0C346.6 497.9 348.6 496.8 350.6 495.7C352.7 494.6 354.7 493.5 356.8 492.4C358.8 491.3 360.8 490.2 362.9 489.0C364.9 487.9 366.9 486.8 369.0 485.6C371.0 484.5 373.0 483.3 375.1 482.2C377.1 481.1 379.1 479.9 381.2 478.8C383.2 477.6 385.2 476.5 387.3 475.4C389.3 474.2 391.3 473.1 393.4 472.0C395.4 470.8 397.4 469.7 399.5 468.5C401.5 467.4 403.5 466.2 405.6 465.0C407.6 463.9 409.7 462.7 411.7 461.5C413.7 460.3 415.8 459.2 417.8 458.0C419.8 456.8 421.9 455.6 423.9 454.5C425.9 453.3 429.0 451.6 430.0 451.0"/><path id="bp12" d="M89.3 706.0C90.3 702.5 93.3 689.9 95.3 684.8C97.3 679.7 99.3 678.3 101.3 675.4C103.3 672.5 105.3 670.0 107.4 667.5C109.4 664.9 111.4 662.4 113.4 660.0C115.4 657.6 117.4 655.5 119.4 653.3C121.4 651.0 123.4 648.8 125.4 646.6C127.4 644.3 129.4 642.0 131.4 639.8C133.4 637.7 135.4 635.6 137.5 633.6C139.5 631.6 141.5 629.7 143.5 627.8C145.5 625.9 147.5 624.0 149.5 622.2C151.5 620.4 153.5 618.7 155.5 617.0C157.5 615.3 159.5 613.6 161.5 612.0C163.5 610.5 165.5 609.2 167.6 607.8C169.6 606.3 171.6 604.9 173.6 603.5C175.6 602.1 177.6 600.8 179.6 599.3C181.6 597.8 183.6 596.0 185.6 594.3C187.6 592.6 189.6 590.8 191.6 589.2C193.6 587.5 195.6 585.7 197.7 584.3C199.7 582.8 201.7 581.9 203.7 580.7C205.7 579.5 207.7 578.3 209.7 577.1C211.7 576.0 213.7 574.7 215.7 573.7C217.7 572.6 219.7 571.7 221.7 570.7C223.7 569.7 225.8 568.7 227.8 567.7C229.8 566.7 231.8 565.7 233.8 564.7C235.8 563.7 237.8 562.8 239.8 561.8C241.8 560.8 243.8 559.9 245.8 558.9C247.8 557.9 249.8 557.0 251.8 556.0C253.8 555.0 255.9 554.1 257.9 553.0C259.9 551.9 261.9 550.7 263.9 549.3C265.9 548.0 267.9 546.5 269.9 544.9C271.9 543.2 273.9 541.5 275.9 539.7C277.9 538.0 279.9 536.1 281.9 534.3C283.9 532.5 286.0 530.7 288.0 529.0C290.0 527.3 292.0 525.5 294.0 524.1C296.0 522.6 299.0 520.9 300.0 520.2"/><path id="bp13" d="M90.9 706.0C91.9 704.2 95.0 698.5 97.0 695.3C99.0 692.2 101.1 689.7 103.1 686.9C105.2 684.1 107.2 681.2 109.2 678.5C111.3 675.9 113.3 673.4 115.4 671.0C117.4 668.7 119.4 666.5 121.5 664.4C123.5 662.2 125.5 660.1 127.6 658.0C129.6 655.9 131.7 653.7 133.7 651.6C135.7 649.4 137.8 647.1 139.8 645.1C141.9 643.1 143.9 641.5 145.9 639.6C148.0 637.7 150.0 635.6 152.1 633.6C154.1 631.6 156.1 629.4 158.2 627.7C160.2 625.9 162.2 624.5 164.3 623.1C166.3 621.6 168.4 620.4 170.4 619.0C172.4 617.7 174.5 616.4 176.5 615.0C178.6 613.5 180.6 612.0 182.6 610.4C184.7 608.7 186.7 606.8 188.7 605.0C190.8 603.2 192.8 601.2 194.9 599.7C196.9 598.1 198.9 596.8 201.0 595.6C203.0 594.3 205.1 593.3 207.1 592.1C209.1 591.0 211.2 589.8 213.2 588.7C215.3 587.5 217.3 586.5 219.3 585.4C221.4 584.4 223.4 583.3 225.4 582.3C227.5 581.2 229.5 580.1 231.6 579.1C233.6 578.1 235.6 577.0 237.7 576.0C239.7 575.0 241.8 574.2 243.8 573.3C245.8 572.4 247.9 571.5 249.9 570.6C251.9 569.7 254.0 568.7 256.0 567.9C258.1 567.0 260.1 566.3 262.1 565.6C264.2 564.9 266.2 564.3 268.3 563.7C270.3 563.0 272.3 562.4 274.4 561.7C276.4 561.1 278.5 560.5 280.5 559.8C282.5 559.2 284.6 558.6 286.6 557.9C288.6 557.3 290.7 556.8 292.7 556.0C294.8 555.2 296.8 554.1 298.8 553.0C300.9 551.9 302.9 550.6 305.0 549.4C307.0 548.2 309.0 547.0 311.1 545.8C313.1 544.6 315.1 543.4 317.2 542.2C319.2 540.9 321.3 539.6 323.3 538.2C325.3 536.8 327.4 535.4 329.4 533.8C331.5 532.3 333.5 530.7 335.5 529.1C337.6 527.5 339.6 525.9 341.7 524.4C343.7 522.8 345.7 521.4 347.8 520.1C349.8 518.7 351.8 517.4 353.9 516.2C355.9 515.0 359.0 513.5 360.0 513.0"/><path id="bp14" d="M88.0 706.0C89.0 701.2 92.1 683.8 94.1 677.1C96.1 670.4 98.1 668.8 100.2 665.6C102.2 662.4 104.2 660.3 106.2 657.8C108.3 655.3 110.3 652.8 112.3 650.4C114.3 648.1 116.4 645.9 118.4 643.6C120.4 641.3 122.5 639.0 124.5 636.7C126.5 634.3 128.5 631.5 130.6 629.3C132.6 627.0 134.6 625.2 136.6 623.2C138.7 621.2 140.7 619.2 142.7 617.3C144.7 615.3 146.8 613.4 148.8 611.6C150.8 609.9 152.9 608.3 154.9 606.8C156.9 605.2 158.9 603.6 161.0 602.1C163.0 600.6 165.0 599.0 167.0 597.5C169.1 596.0 171.1 594.5 173.1 593.0C175.1 591.6 177.2 590.2 179.2 588.6C181.2 587.0 183.3 585.3 185.3 583.7C187.3 582.0 189.3 580.3 191.4 578.6C193.4 577.0 195.4 575.2 197.4 573.7C199.5 572.3 201.5 571.3 203.5 570.0C205.5 568.8 207.6 567.5 209.6 566.3C211.6 565.1 213.7 563.8 215.7 562.7C217.7 561.6 219.7 560.7 221.8 559.8C223.8 558.8 225.8 557.8 227.8 556.9C229.9 555.9 231.9 555.0 233.9 554.0C235.9 553.0 239.0 551.5 240.0 551.0"/><path id="bp15" d="M91.0 706.0C92.0 702.8 95.1 691.3 97.2 686.5C99.3 681.8 101.3 680.4 103.4 677.6C105.5 674.7 107.5 672.1 109.6 669.5C111.7 666.9 113.7 664.3 115.8 662.0C117.9 659.6 119.9 657.5 122.0 655.3C124.1 653.0 126.1 650.7 128.2 648.5C130.3 646.2 132.3 644.0 134.4 641.9C136.5 639.7 138.5 637.5 140.6 635.5C142.7 633.4 144.7 631.7 146.8 629.8C148.9 627.9 150.9 625.9 153.0 624.0C155.1 622.2 157.1 620.2 159.2 618.5C161.3 616.8 163.3 615.4 165.4 614.0C167.5 612.5 169.5 611.2 171.6 609.9C173.7 608.5 175.7 607.3 177.8 605.9C179.9 604.5 181.9 603.0 184.0 601.5C186.1 599.9 188.1 598.3 190.2 596.7C192.3 595.1 194.3 593.3 196.4 591.9C198.5 590.6 200.5 589.7 202.6 588.7C204.7 587.6 206.7 586.5 208.8 585.4C210.9 584.3 211.1 586.2 215.0 582.0C218.9 577.8 227.8 565.5 232.0 560.0C236.2 554.5 238.7 550.8 240.0 549.0"/><path id="bp16" d="M89.0 706.0C90.0 701.7 93.1 686.2 95.1 680.2C97.2 674.2 99.2 673.1 101.3 670.1C103.3 667.1 105.3 664.8 107.4 662.2C109.4 659.6 111.5 657.1 113.5 654.7C115.6 652.3 117.6 650.2 119.7 647.9C121.7 645.6 123.7 643.2 125.8 640.9C127.8 638.6 129.9 636.1 131.9 633.9C134.0 631.7 136.0 629.7 138.0 627.7C140.1 625.7 142.1 623.8 144.2 621.8C146.2 619.9 148.3 617.9 150.3 616.2C152.3 614.4 154.4 612.8 156.4 611.2C158.5 609.5 160.5 607.9 162.6 606.4C164.6 604.8 166.7 603.4 168.7 601.9C170.7 600.4 172.8 599.0 174.8 597.5C176.9 596.0 178.9 594.5 181.0 592.8C183.0 591.1 185.0 589.2 187.1 587.4C189.1 585.5 191.2 583.6 193.2 581.8C195.3 580.0 197.3 578.2 199.3 576.7C201.4 575.1 203.4 573.8 205.5 572.4C207.5 571.0 209.6 569.5 211.6 568.2C213.7 566.8 215.7 565.5 217.7 564.3C219.8 563.1 221.8 562.1 223.9 561.1C225.9 560.0 226.5 560.0 230.0 558.0C233.5 556.0 240.2 551.8 245.0 549.0C249.8 546.2 251.7 545.1 259.0 541.3C266.3 537.5 279.1 531.1 289.0 526.0C298.9 520.9 308.7 515.6 318.5 510.5C328.3 505.4 338.1 500.6 348.0 495.4C357.9 490.1 373.0 481.7 378.0 479.0"/><path id="bp17" d="M92.0 706.0C93.0 703.5 96.0 695.0 98.0 691.1C100.1 687.2 102.1 685.3 104.1 682.5C106.1 679.7 108.1 677.1 110.1 674.6C112.2 672.0 114.2 669.5 116.2 667.2C118.2 664.9 120.2 662.8 122.2 660.7C124.3 658.5 126.3 656.4 128.3 654.3C130.3 652.2 132.3 650.0 134.3 647.9C136.4 645.8 138.4 643.5 140.4 641.5C142.4 639.6 144.4 638.0 146.4 636.1C148.5 634.2 150.5 632.2 152.5 630.3C154.5 628.4 156.5 626.3 158.5 624.6C160.6 622.9 162.6 621.5 164.6 620.1C166.6 618.7 168.6 617.4 170.6 616.0C172.7 614.7 174.7 613.4 176.7 612.0C178.7 610.5 180.7 609.0 182.7 607.4C184.7 605.7 186.8 603.9 188.8 602.1C190.8 600.4 192.8 598.4 194.8 596.9C196.8 595.3 198.9 594.0 200.9 592.8C202.9 591.5 204.9 590.5 206.9 589.3C208.9 588.2 211.0 587.0 213.0 585.9C215.0 584.8 217.0 583.7 219.0 582.7C221.0 581.6 223.1 580.6 225.1 579.6C227.1 578.6 229.1 577.5 231.1 576.5C233.1 575.5 235.2 574.4 237.2 573.4C239.2 572.5 241.2 571.6 243.2 570.7C245.2 569.8 247.3 568.8 249.3 567.9C251.3 566.9 253.3 565.9 255.3 564.9C257.3 564.0 259.3 563.0 261.4 562.1C263.4 561.3 265.4 560.5 267.4 559.7C269.4 558.9 271.4 558.0 273.5 557.1C275.5 556.3 277.5 555.4 279.5 554.5C281.5 553.6 283.5 552.7 285.6 551.8C287.6 550.9 289.6 550.0 291.6 549.0C293.6 547.9 295.6 546.8 297.7 545.6C299.7 544.3 301.7 542.8 303.7 541.5C305.7 540.1 307.7 538.8 309.8 537.5C311.8 536.1 313.8 534.8 315.8 533.5C317.8 532.2 319.8 531.0 321.9 529.8C323.9 528.6 325.9 527.5 327.9 526.4C329.9 525.3 331.9 524.2 334.0 523.1C336.0 522.1 334.8 523.9 340.0 520.0C345.2 516.1 358.0 506.5 365.0 500.0C372.0 493.5 378.2 485.5 382.0 481.0C385.8 476.5 387.0 474.3 388.0 473.0"/><path id="bp18" d="M89.5 706.0C90.5 702.3 93.5 688.9 95.6 683.6C97.6 678.3 99.6 677.0 101.6 674.1C103.6 671.3 105.6 668.8 107.7 666.2C109.7 663.6 111.7 661.1 113.7 658.7C115.7 656.4 117.7 654.3 119.8 652.0C121.8 649.8 123.8 647.5 125.8 645.2C127.8 643.0 129.8 640.6 131.9 638.5C133.9 636.3 135.9 634.3 137.9 632.3C139.9 630.3 142.0 628.4 144.0 626.5C146.0 624.6 148.0 622.6 150.0 620.8C152.0 619.0 154.1 617.3 156.1 615.7C158.1 614.0 160.1 612.3 162.1 610.8C164.1 609.3 166.2 607.9 168.2 606.5C170.2 605.0 172.2 603.6 174.2 602.2C176.2 600.8 178.3 599.5 180.3 597.9C182.3 596.3 184.3 594.5 186.3 592.8C188.4 591.1 190.4 589.3 192.4 587.7C194.4 586.1 196.4 584.3 198.4 582.9C200.5 581.6 202.5 580.6 204.5 579.4C206.5 578.2 208.5 577.0 210.5 575.8C212.6 574.6 214.6 573.4 216.6 572.4C218.6 571.3 220.6 570.4 222.6 569.4C224.7 568.4 226.7 567.4 228.7 566.4C230.7 565.4 232.7 564.4 234.8 563.4C236.8 562.4 238.8 561.4 240.8 560.5C242.8 559.5 244.8 558.5 246.9 557.5C248.9 556.6 250.9 555.6 252.9 554.6C254.9 553.7 256.9 552.6 259.0 551.7C261.0 550.8 263.0 550.0 265.0 549.1C267.0 548.2 269.0 547.3 271.1 546.4C273.1 545.5 275.1 544.5 277.1 543.6C279.1 542.6 281.1 541.6 283.2 540.5C285.2 539.5 287.2 538.5 289.2 537.4C291.2 536.3 293.3 535.2 295.3 534.0C297.3 532.7 299.3 531.3 301.3 529.9C303.3 528.6 305.4 527.2 307.4 525.8C309.4 524.5 311.4 523.1 313.4 521.7C315.4 520.3 317.5 518.9 319.5 517.6C321.5 516.2 323.5 514.9 325.5 513.6C327.5 512.3 329.6 511.0 331.6 509.7C333.6 508.4 335.6 507.1 337.6 505.8C339.7 504.5 341.7 503.2 343.7 502.0C345.7 500.7 347.7 499.4 349.7 498.2C351.8 496.9 353.8 495.5 355.8 494.3C357.8 493.0 359.8 491.7 361.8 490.5C363.9 489.2 365.9 488.0 367.9 486.8C369.9 485.6 371.9 484.5 373.9 483.3C376.0 482.2 375.7 482.6 380.0 480.0C384.3 477.4 391.7 472.8 400.0 468.0C408.3 463.2 420.8 456.5 430.0 451.0C439.2 445.5 443.3 442.5 455.0 435.0C466.7 427.5 485.8 415.3 500.0 406.0C514.2 396.7 533.3 383.5 540.0 379.0"/><path id="bp19" d="M91.0 706.0C92.0 702.3 95.0 689.1 97.0 684.0C99.0 678.8 101.0 677.9 103.0 675.1C105.0 672.4 107.0 669.8 109.1 667.3C111.1 664.8 113.1 662.3 115.1 660.0C117.1 657.7 119.1 655.7 121.1 653.5C123.1 651.2 125.1 648.9 127.1 646.7C129.1 644.5 131.1 642.3 133.1 640.2C135.1 638.1 137.1 635.9 139.1 634.0C141.1 632.0 143.1 630.3 145.2 628.4C147.2 626.5 149.2 624.6 151.2 622.8C153.2 620.9 155.2 619.2 157.2 617.5C159.2 615.8 161.2 614.3 163.2 612.8C165.2 611.3 167.2 609.9 169.2 608.5C171.2 607.1 173.2 605.8 175.2 604.4C177.2 602.9 179.3 601.6 181.3 600.0C183.3 598.4 185.3 596.6 187.3 594.9C189.3 593.2 191.3 591.4 193.3 589.8C195.3 588.1 197.3 586.6 199.3 585.2C201.3 583.9 203.3 582.9 205.3 581.7C207.3 580.5 209.3 579.3 211.3 578.2C213.4 577.1 215.4 575.9 217.4 574.9C219.4 573.8 221.4 572.9 223.4 571.9C225.4 570.9 227.4 569.9 229.4 568.9C231.4 567.9 233.4 566.9 235.4 565.9C237.4 564.9 239.4 564.0 241.4 563.0C243.4 562.0 245.4 561.1 247.4 560.1C249.5 559.2 251.5 558.2 253.5 557.3C255.5 556.3 257.5 555.3 259.5 554.5C261.5 553.6 263.5 552.8 265.5 552.0C267.5 551.2 269.5 550.4 271.5 549.6C273.5 548.8 275.5 548.0 277.5 547.1C279.5 546.3 281.5 545.5 283.6 544.7C285.6 543.9 287.6 543.1 289.6 542.3C291.6 541.4 293.6 540.7 295.6 539.7C297.6 538.7 299.6 537.4 301.6 536.3C303.6 535.2 305.6 534.1 307.6 533.0C309.6 531.9 311.6 530.8 313.6 529.7C315.6 528.6 317.6 527.4 319.7 526.4C321.7 525.4 323.7 524.4 325.7 523.4C327.7 522.5 329.7 521.5 331.7 520.5C333.7 519.5 335.7 518.6 337.7 517.6C339.7 516.6 341.7 515.6 343.7 514.5C345.7 513.5 347.7 512.4 349.7 511.4C351.7 510.3 353.8 509.2 355.8 508.1C357.8 507.0 359.8 506.0 361.8 504.8C363.8 503.7 365.8 502.5 367.8 501.2C369.8 500.0 371.8 498.6 373.8 497.3C375.8 495.9 377.8 494.6 379.8 493.3C381.8 491.9 383.8 490.6 385.8 489.2C387.9 487.9 389.9 486.6 391.9 485.3C393.9 484.0 395.9 482.8 397.9 481.5C399.9 480.3 401.9 479.0 403.9 477.8C405.9 476.5 407.9 475.3 409.9 474.0C411.9 472.7 413.9 471.4 415.9 470.2C417.9 468.9 419.9 467.7 421.9 466.5C424.0 465.3 426.0 464.2 428.0 463.0C430.0 461.8 432.0 460.7 434.0 459.5C436.0 458.3 434.0 459.9 440.0 456.0C446.0 452.1 460.0 443.0 470.0 436.0C480.0 429.0 490.8 421.0 500.0 414.0C509.2 407.0 518.3 399.8 525.0 394.0C531.7 388.2 537.5 381.5 540.0 379.0"/><path id="bp20" d="M90.0 706.0C91.0 701.9 94.0 687.1 96.0 681.4C98.0 675.8 100.0 675.0 102.0 672.1C104.0 669.3 106.0 666.9 108.0 664.3C110.0 661.8 112.0 659.3 114.0 656.9C116.0 654.6 118.0 652.6 120.0 650.4C122.0 648.1 124.0 645.8 126.0 643.6C128.0 641.3 130.0 639.0 132.0 636.8C134.0 634.7 136.0 632.7 138.0 630.7C140.0 628.7 142.0 626.9 144.0 625.0C146.0 623.1 148.0 621.1 150.0 619.4C152.0 617.6 154.0 616.0 156.0 614.3C158.0 612.7 160.0 611.0 162.0 609.5C164.0 608.0 166.0 606.6 168.0 605.2C170.0 603.8 172.0 602.4 174.0 600.9C176.0 599.5 178.0 598.2 180.0 596.7C182.0 595.2 184.0 593.3 186.0 591.7C188.0 590.0 190.0 588.2 192.0 586.6C194.0 585.0 196.0 583.2 198.0 581.8C200.0 580.4 202.0 579.4 204.0 578.2C206.0 577.0 208.0 575.8 210.0 574.7C212.0 573.5 214.0 572.3 216.0 571.2C218.0 570.1 220.0 569.2 222.0 568.3C224.0 567.3 226.0 566.3 228.0 565.3C230.0 564.3 232.0 563.4 234.0 562.4C236.0 561.4 238.0 560.4 240.0 559.4C242.0 558.5 244.0 557.5 246.0 556.5C248.0 555.6 250.0 554.6 252.0 553.6C254.0 552.6 256.0 551.6 258.0 550.7C260.0 549.8 262.0 548.9 264.0 548.0C266.0 547.1 268.0 546.2 270.0 545.4C272.0 544.5 274.0 543.6 276.0 542.7C278.0 541.8 280.0 541.0 282.0 540.1C284.0 539.2 286.0 538.3 288.0 537.4C290.0 536.6 292.0 535.7 294.0 534.7C296.0 533.8 298.0 532.6 300.0 531.6C302.0 530.5 304.0 529.4 306.0 528.3C308.0 527.2 310.0 526.1 312.0 525.0C314.0 523.9 316.0 522.8 318.0 521.7C320.0 520.6 322.0 519.6 324.0 518.6C326.0 517.5 328.0 516.5 330.0 515.5C332.0 514.5 334.0 513.5 336.0 512.4C338.0 511.4 340.0 510.3 342.0 509.2C344.0 508.1 346.0 507.0 348.0 505.9C350.0 504.7 352.0 503.5 354.0 502.3C356.0 501.2 358.0 500.0 360.0 498.8C362.0 497.6 364.0 496.4 366.0 495.2C368.0 493.9 370.0 492.5 372.0 491.2C374.0 489.9 376.0 488.6 378.0 487.2C380.0 485.9 382.0 484.6 384.0 483.3C386.0 482.0 388.0 480.7 390.0 479.4C392.0 478.1 394.0 476.9 396.0 475.6C398.0 474.4 400.0 473.1 402.0 471.9C404.0 470.7 406.0 469.4 408.0 468.2C410.0 466.9 412.0 465.7 414.0 464.4C416.0 463.2 418.0 462.0 420.0 460.8C422.0 459.5 424.0 458.3 426.0 457.0C428.0 455.8 430.0 454.6 432.0 453.3C434.0 452.1 436.0 450.9 438.0 449.6C440.0 448.4 442.0 447.2 444.0 445.9C446.0 444.7 448.0 443.5 450.0 442.3C452.0 441.0 454.0 439.8 456.0 438.6C458.0 437.3 460.0 435.9 462.0 434.6C464.0 433.3 466.0 432.0 468.0 430.7C470.0 429.4 472.0 428.1 474.0 426.9C476.0 425.6 474.0 427.3 480.0 423.0C486.0 418.7 501.7 407.0 510.0 401.0C518.3 395.0 524.2 391.1 530.0 387.0C535.8 382.9 540.0 379.9 545.0 376.5C550.0 373.1 554.3 370.2 560.0 366.5C565.7 362.8 569.8 359.9 579.0 354.0C588.2 348.1 605.5 337.2 615.0 331.0C624.5 324.8 628.5 322.2 636.0 316.5C643.5 310.8 650.8 304.1 660.0 297.0C669.2 289.9 685.8 277.8 691.0 274.0"/><path id="bp21" d="M92.5 706.0C93.5 703.9 96.5 697.1 98.5 693.6C100.5 690.2 102.6 687.8 104.6 685.1C106.6 682.3 108.6 679.7 110.6 677.1C112.6 674.6 114.6 672.0 116.6 669.7C118.7 667.4 120.7 665.5 122.7 663.4C124.7 661.3 126.7 659.2 128.7 657.1C130.7 655.0 132.7 652.9 134.8 650.8C136.8 648.7 138.8 646.4 140.8 644.4C142.8 642.5 144.8 640.9 146.8 639.0C148.8 637.1 150.9 635.1 152.9 633.1C154.9 631.1 156.9 629.0 158.9 627.3C160.9 625.6 162.9 624.3 164.9 622.9C167.0 621.5 169.0 620.2 171.0 618.9C173.0 617.6 175.0 616.4 177.0 614.9C179.0 613.5 181.0 611.9 183.0 610.3C185.1 608.6 187.1 606.8 189.1 605.0C191.1 603.2 193.1 601.3 195.1 599.7C197.1 598.2 199.1 597.0 201.2 595.7C203.2 594.5 205.2 593.5 207.2 592.3C209.2 591.2 211.2 590.0 213.2 588.9C215.2 587.8 217.3 586.8 219.3 585.7C221.3 584.7 223.3 583.7 225.3 582.6C227.3 581.6 229.3 580.5 231.3 579.5C233.4 578.5 235.4 577.4 237.4 576.4C239.4 575.5 241.4 574.6 243.4 573.7C245.4 572.8 247.4 571.9 249.5 570.9C251.5 570.0 253.5 568.9 255.5 568.0C257.5 567.0 259.5 566.1 261.5 565.2C263.5 564.4 265.5 563.6 267.6 562.8C269.6 562.0 271.6 561.1 273.6 560.3C275.6 559.4 277.6 558.5 279.6 557.6C281.6 556.7 283.7 555.8 285.7 554.8C287.7 553.9 289.7 553.0 291.7 552.0C293.7 550.9 295.7 549.7 297.7 548.4C299.8 547.1 301.8 545.5 303.8 544.1C305.8 542.7 307.8 541.3 309.8 539.9C311.8 538.5 313.8 537.1 315.9 535.8C317.9 534.5 319.9 533.1 321.9 531.9C323.9 530.7 325.9 529.6 327.9 528.5C329.9 527.3 332.0 526.2 334.0 525.1C336.0 524.1 332.3 525.5 340.0 522.0C347.7 518.5 366.7 509.3 380.0 504.0C393.3 498.7 401.7 497.5 420.0 490.0C438.3 482.5 470.0 468.7 490.0 459.0C510.0 449.3 524.3 440.6 540.0 432.0C555.7 423.4 574.5 412.6 584.0 407.4C593.5 402.2 591.8 404.6 597.0 401.0C602.2 397.4 610.3 389.8 615.0 386.0C619.7 382.2 620.8 382.0 625.0 378.0C629.2 374.0 635.2 367.0 640.0 362.0C644.8 357.0 649.1 353.0 653.6 348.0C658.1 343.0 662.9 337.8 667.0 332.0C671.1 326.2 675.0 319.3 678.0 313.0C681.0 306.7 683.2 299.3 685.0 294.0C686.8 288.7 688.0 284.5 689.0 281.0C690.0 277.5 690.7 274.3 691.0 273.0"/><path id="bp22" d="M90.5 706.0C91.5 702.7 94.5 691.0 96.5 686.2C98.5 681.4 100.5 680.1 102.5 677.3C104.6 674.5 106.6 671.9 108.6 669.4C110.6 666.8 112.6 664.3 114.6 662.0C116.6 659.6 118.6 657.6 120.6 655.4C122.6 653.2 124.6 650.9 126.6 648.7C128.6 646.5 130.6 644.3 132.7 642.2C134.7 640.1 136.7 637.9 138.7 635.9C140.7 634.0 142.7 632.2 144.7 630.3C146.7 628.4 148.7 626.4 150.7 624.6C152.7 622.8 154.7 621.0 156.7 619.3C158.8 617.6 160.8 616.0 162.8 614.5C164.8 613.0 166.8 611.7 168.8 610.3C170.8 608.9 172.8 607.5 174.8 606.1C176.8 604.7 178.8 603.4 180.8 601.8C182.8 600.2 184.8 598.4 186.9 596.7C188.9 594.9 190.9 593.1 192.9 591.5C194.9 589.9 196.9 588.2 198.9 586.9C200.9 585.5 202.9 584.6 204.9 583.4C206.9 582.2 208.9 581.0 210.9 579.9C212.9 578.7 215.0 577.6 217.0 576.5C219.0 575.5 221.0 574.5 223.0 573.5C225.0 572.5 227.0 571.5 229.0 570.5C231.0 569.5 233.0 568.5 235.0 567.5C237.0 566.5 239.0 565.5 241.1 564.6C243.1 563.6 245.1 562.7 247.1 561.8C249.1 560.8 251.1 559.9 253.1 558.9C255.1 558.0 257.1 557.0 259.1 556.1C261.1 555.2 263.1 554.5 265.1 553.7C267.1 552.9 269.2 552.2 271.2 551.4C273.2 550.6 275.2 549.8 277.2 549.0C279.2 548.2 281.2 547.4 283.2 546.6C285.2 545.8 287.2 545.0 289.2 544.2C291.2 543.4 293.2 542.8 295.2 541.8C297.3 540.8 299.3 539.5 301.3 538.4C303.3 537.3 305.3 536.1 307.3 535.0C309.3 533.9 311.3 532.7 313.3 531.6C315.3 530.5 317.3 529.3 319.3 528.2C321.3 527.2 323.4 526.2 325.4 525.2C327.4 524.1 329.4 523.1 331.4 522.1C333.4 521.1 335.4 520.1 337.4 519.1C339.4 518.0 341.4 517.0 343.4 515.9C345.4 514.8 347.4 513.7 349.4 512.7C351.5 511.6 353.5 510.5 355.5 509.4C357.5 508.3 359.5 507.3 361.5 506.2C363.5 505.1 365.5 504.0 367.5 502.8C369.5 501.5 371.5 500.2 373.5 498.9C375.5 497.6 377.6 496.3 379.6 495.0C381.6 493.7 383.6 492.4 385.6 491.1C387.6 489.8 389.6 488.5 391.6 487.3C393.6 486.1 395.6 485.0 397.6 483.8C399.6 482.6 401.6 481.4 403.6 480.2C405.7 479.0 407.7 477.8 409.7 476.6C411.7 475.4 413.7 474.1 415.7 472.9C417.7 471.7 419.7 470.5 421.7 469.4C423.7 468.3 425.7 467.3 427.7 466.3C429.7 465.2 431.8 464.2 433.8 463.1C435.8 462.1 437.8 461.0 439.8 460.0C441.8 458.9 443.8 457.9 445.8 456.8C447.8 455.8 449.8 454.7 451.8 453.6C453.8 452.6 455.8 451.5 457.8 450.3C459.9 449.2 461.9 448.0 463.9 446.8C465.9 445.6 467.9 444.5 469.9 443.3C471.9 442.1 473.9 440.9 475.9 439.7C477.9 438.5 479.9 437.3 481.9 436.1C483.9 434.9 485.9 433.7 488.0 432.4C490.0 431.2 492.0 430.0 494.0 428.7C496.0 427.5 489.0 432.1 500.0 425.0C511.0 417.9 543.3 397.3 560.0 386.0C576.7 374.7 586.7 366.6 600.0 357.0C613.3 347.4 628.3 337.1 640.0 328.5C651.7 319.9 662.5 311.2 670.0 305.5C677.5 299.8 681.7 296.6 685.0 294.0C688.3 291.4 685.8 293.0 689.6 290.0C693.5 287.0 701.9 280.3 708.1 276.0C714.3 271.7 720.5 268.1 726.7 264.0C732.9 259.9 739.0 256.1 745.2 251.5C751.4 246.9 757.5 241.9 763.7 236.5C769.9 231.1 776.0 225.4 782.2 219.0C788.5 212.6 796.2 204.0 801.2 198.0C806.2 192.0 808.9 187.7 812.2 183.0C815.5 178.3 818.4 173.9 821.1 169.6C823.8 165.3 826.3 160.7 828.5 157.0C830.7 153.3 832.8 150.1 834.4 147.4C836.0 144.7 837.3 142.7 838.3 141.0C839.3 139.3 840.1 138.1 840.5 137.5"/><path id="bp23" d="M91.4 706.5C92.0 705.8 93.6 703.7 95.0 702.0C96.4 700.3 98.1 698.5 99.6 696.5C101.1 694.5 102.4 692.2 104.0 690.0C105.6 687.8 106.9 685.8 109.1 683.0C111.3 680.2 114.7 675.8 117.2 673.0C119.7 670.2 121.7 668.3 124.0 666.0C126.3 663.7 128.3 661.8 131.0 659.0C133.7 656.2 137.8 651.5 140.3 649.0C142.8 646.5 142.7 647.2 146.0 644.0C149.3 640.8 154.3 634.5 160.0 630.0C165.7 625.5 173.8 621.7 180.0 617.0C186.2 612.3 191.2 606.2 197.0 602.0C202.8 597.8 208.3 595.6 215.0 592.0C221.7 588.4 229.7 584.0 237.0 580.5C244.3 577.0 249.3 574.2 259.0 571.0C268.7 567.8 284.8 565.2 295.0 561.0C305.2 556.8 312.5 550.2 320.0 546.0C327.5 541.8 332.5 539.5 340.0 536.0C347.5 532.5 356.7 528.0 365.0 525.0C373.3 522.0 380.8 520.0 390.0 518.0C399.2 516.0 406.7 515.7 420.0 513.0C433.3 510.3 453.2 505.5 470.0 502.0C486.8 498.5 496.0 497.6 521.0 492.0C546.0 486.4 599.2 473.7 620.0 468.5C640.8 463.3 639.3 462.8 646.0 461.0C652.7 459.2 653.5 460.7 660.0 458.0C666.5 455.3 676.8 450.0 685.0 445.0C693.2 440.0 702.7 432.8 709.0 428.0C715.3 423.2 718.2 420.1 723.0 416.3C727.8 412.5 733.7 408.1 738.0 405.0C742.3 401.9 745.5 400.9 749.0 397.8C752.5 394.8 755.0 392.3 759.0 386.7C763.0 381.1 769.4 370.0 773.0 364.4C776.6 358.8 777.2 359.5 780.5 353.3C783.8 347.1 789.0 336.6 793.0 327.4C797.0 318.1 801.2 306.4 804.5 297.8C807.8 289.2 810.0 283.6 812.5 275.6C815.0 267.6 816.9 260.1 819.5 249.6C822.1 239.1 825.4 224.9 828.0 212.6C830.6 200.3 833.1 186.0 835.0 175.6C836.9 165.2 838.4 156.3 839.3 150.0C840.2 143.7 840.3 139.6 840.5 137.5"/></defs><use href="#bp0" stroke="#36a2ec" stroke-width="5.6"/><use href="#bp0" stroke="#a8dafa" stroke-width="1.5"/><use href="#bp1" stroke="#36a2ec" stroke-width="5.6"/><use href="#bp1" stroke="#a8dafa" stroke-width="1.5"/><use href="#bp2" stroke="#36a2ec" stroke-width="5.6"/><use href="#bp2" stroke="#a8dafa" stroke-width="1.5"/><use href="#bp3" stroke="#36a2ec" stroke-width="5.6"/><use href="#bp3" stroke="#a8dafa" stroke-width="1.5"/><use href="#bp4" stroke="#36a2ec" stroke-width="5.6"/><use href="#bp4" stroke="#a8dafa" stroke-width="1.5"/><use href="#bp5" stroke="#36a2ec" stroke-width="5.6"/><use href="#bp5" stroke="#a8dafa" stroke-width="1.5"/><use href="#bp6" stroke="#36a2ec" stroke-width="5.6"/><use href="#bp6" stroke="#a8dafa" stroke-width="1.5"/><use href="#bp7" stroke="#36a2ec" stroke-width="5.6"/><use href="#bp7" stroke="#a8dafa" stroke-width="1.5"/><use href="#bp8" stroke="#36a2ec" stroke-width="5.6"/><use href="#bp8" stroke="#a8dafa" stroke-width="1.5"/><use href="#bp9" stroke="#36a2ec" stroke-width="5.6"/><use href="#bp9" stroke="#a8dafa" stroke-width="1.5"/><use href="#bp10" stroke="#36a2ec" stroke-width="5.6"/><use href="#bp10" stroke="#a8dafa" stroke-width="1.5"/><use href="#bp11" stroke="#36a2ec" stroke-width="5.6"/><use href="#bp11" stroke="#a8dafa" stroke-width="1.5"/><use href="#bp12" stroke="#36a2ec" stroke-width="5.6"/><use href="#bp12" stroke="#a8dafa" stroke-width="1.5"/><use href="#bp13" stroke="#36a2ec" stroke-width="5.6"/><use href="#bp13" stroke="#a8dafa" stroke-width="1.5"/><use href="#bp14" stroke="#36a2ec" stroke-width="5.6"/><use href="#bp14" stroke="#a8dafa" stroke-width="1.6"/><use href="#bp15" stroke="#36a2ec" stroke-width="5.6"/><use href="#bp15" stroke="#a8dafa" stroke-width="1.6"/><use href="#bp16" stroke="#36a2ec" stroke-width="5.6"/><use href="#bp16" stroke="#a8dafa" stroke-width="1.6"/><use href="#bp17" stroke="#36a2ec" stroke-width="5.6"/><use href="#bp17" stroke="#a8dafa" stroke-width="1.6"/><use href="#bp18" stroke="#36a2ec" stroke-width="5.6"/><use href="#bp18" stroke="#a8dafa" stroke-width="1.6"/><use href="#bp19" stroke="#36a2ec" stroke-width="5.6"/><use href="#bp19" stroke="#a8dafa" stroke-width="1.6"/><use href="#bp20" stroke="#36a2ec" stroke-width="5.6"/><use href="#bp20" stroke="#a8dafa" stroke-width="1.6"/><use href="#bp21" stroke="#36a2ec" stroke-width="5.6"/><use href="#bp21" stroke="#a8dafa" stroke-width="1.6"/><use href="#bp22" stroke="#36a2ec" stroke-width="5.6"/><use href="#bp22" stroke="#a8dafa" stroke-width="1.6"/><use href="#bp23" stroke="#36a2ec" stroke-width="5.6"/><use href="#bp23" stroke="#a8dafa" stroke-width="1.6"/></g></g>
<rect x="88" y="38" width="828.5" height="668" fill="none" stroke="#000" stroke-width="4.6"/>
<line x1="88" y1="706.0" x2="101.5" y2="706.0" stroke="#000" stroke-width="4.4"/>
<text class="b" x="73.8" y="714.6" font-size="28" text-anchor="end">0</text>
<line x1="88" y1="654.6" x2="94.5" y2="654.6" stroke="#000" stroke-width="4.4"/>
<line x1="88" y1="603.2" x2="101.5" y2="603.2" stroke="#000" stroke-width="4.4"/>
<text class="b" x="73.8" y="611.8" font-size="28" text-anchor="end">2</text>
<line x1="88" y1="551.8" x2="94.5" y2="551.8" stroke="#000" stroke-width="4.4"/>
<line x1="88" y1="500.4" x2="101.5" y2="500.4" stroke="#000" stroke-width="4.4"/>
<text class="b" x="73.8" y="509.0" font-size="28" text-anchor="end">4</text>
<line x1="88" y1="449.0" x2="94.5" y2="449.0" stroke="#000" stroke-width="4.4"/>
<line x1="88" y1="397.6" x2="101.5" y2="397.6" stroke="#000" stroke-width="4.4"/>
<text class="b" x="73.8" y="406.2" font-size="28" text-anchor="end">6</text>
<line x1="88" y1="346.2" x2="94.5" y2="346.2" stroke="#000" stroke-width="4.4"/>
<line x1="88" y1="294.8" x2="101.5" y2="294.8" stroke="#000" stroke-width="4.4"/>
<text class="b" x="73.8" y="303.4" font-size="28" text-anchor="end">8</text>
<line x1="88" y1="243.4" x2="94.5" y2="243.4" stroke="#000" stroke-width="4.4"/>
<line x1="88" y1="192.0" x2="101.5" y2="192.0" stroke="#000" stroke-width="4.4"/>
<text class="b" x="73.8" y="200.6" font-size="28" text-anchor="end">10</text>
<line x1="88" y1="140.6" x2="94.5" y2="140.6" stroke="#000" stroke-width="4.4"/>
<line x1="88" y1="89.2" x2="101.5" y2="89.2" stroke="#000" stroke-width="4.4"/>
<text class="b" x="73.8" y="97.8" font-size="28" text-anchor="end">12</text>
<line x1="88.0" y1="706" x2="88.0" y2="693" stroke="#000" stroke-width="4.4"/>
<text class="b" x="88.8" y="743" font-size="28" text-anchor="middle">0</text>
<line x1="163.3" y1="706" x2="163.3" y2="699.5" stroke="#000" stroke-width="4.4"/>
<line x1="238.6" y1="706" x2="238.6" y2="693" stroke="#000" stroke-width="4.4"/>
<text class="b" x="239.4" y="743" font-size="28" text-anchor="middle">100</text>
<line x1="313.9" y1="706" x2="313.9" y2="699.5" stroke="#000" stroke-width="4.4"/>
<line x1="389.2" y1="706" x2="389.2" y2="693" stroke="#000" stroke-width="4.4"/>
<text class="b" x="390.0" y="743" font-size="28" text-anchor="middle">200</text>
<line x1="464.5" y1="706" x2="464.5" y2="699.5" stroke="#000" stroke-width="4.4"/>
<line x1="539.8" y1="706" x2="539.8" y2="693" stroke="#000" stroke-width="4.4"/>
<text class="b" x="540.6" y="743" font-size="28" text-anchor="middle">300</text>
<line x1="615.1" y1="706" x2="615.1" y2="699.5" stroke="#000" stroke-width="4.4"/>
<line x1="690.4" y1="706" x2="690.4" y2="693" stroke="#000" stroke-width="4.4"/>
<text class="b" x="691.2" y="743" font-size="28" text-anchor="middle">400</text>
<line x1="765.7" y1="706" x2="765.7" y2="699.5" stroke="#000" stroke-width="4.4"/>
<line x1="841.0" y1="706" x2="841.0" y2="693" stroke="#000" stroke-width="4.4"/>
<text class="b" x="841.8" y="743" font-size="28" text-anchor="middle">500</text>
<text class="b" x="3.2" y="44.5" font-size="55.5">(a)</text>
<text class="b" x="428" y="797.5" font-size="35.5" textLength="148" lengthAdjust="spacingAndGlyphs">Strain<tspan font-weight="normal">(%)</tspan></text>
<text class="b" transform="translate(31,466) rotate(-90)" x="0" y="0" font-size="35" textLength="184" lengthAdjust="spacingAndGlyphs">Stress<tspan font-weight="normal">(</tspan>MPa<tspan font-weight="normal">)</tspan></text>
<line x1="294" y1="128.3" x2="371" y2="128.3" stroke="#ff1a1a" stroke-width="5" stroke-linecap="round"/>
<text x="380.5" y="141.2" font-size="34.6">TKNR</text>
<line x1="294" y1="171.3" x2="371" y2="171.3" stroke="#000" stroke-width="5" stroke-linecap="round"/>
<text x="380.5" y="184.2" font-size="34.6">NR-TKNR</text>
<line x1="294" y1="214.3" x2="371" y2="214.3" stroke="#6cc2f6" stroke-width="5" stroke-linecap="round"/>
<text x="380.5" y="227.2" font-size="34.6">NR</text>
</g>
<g id="chartB">
<rect x="1179.6" y="700.9" width="39.0" height="10.1" fill="url(#gG)"/>
<rect x="1226.4" y="680.4" width="39.0" height="30.6" fill="url(#gW)"/>
<rect x="1273.2" y="703.1" width="39.0" height="7.9" fill="url(#gC)"/>
<text class="b" x="1246.4" y="747.5" font-size="28" text-anchor="middle">1</text>
<rect x="1345.7" y="680.9" width="39.0" height="30.1" fill="url(#gG)"/>
<rect x="1392.5" y="621.3" width="39.0" height="89.7" fill="url(#gW)"/>
<rect x="1439.3" y="675.6" width="39.0" height="35.4" fill="url(#gC)"/>
<text class="b" x="1412.5" y="747.5" font-size="28" text-anchor="middle">2</text>
<rect x="1511.8" y="644.9" width="39.0" height="66.1" fill="url(#gG)"/>
<rect x="1558.6" y="528.3" width="39.0" height="182.7" fill="url(#gW)"/>
<rect x="1605.4" y="619.5" width="39.0" height="91.5" fill="url(#gC)"/>
<text class="b" x="1578.6" y="747.5" font-size="28" text-anchor="middle">3</text>
<rect x="1677.9" y="514.1" width="39.0" height="196.9" fill="url(#gG)"/>
<rect x="1724.7" y="405.5" width="39.0" height="305.5" fill="url(#gW)"/>
<rect x="1771.5" y="512.3" width="39.0" height="198.7" fill="url(#gC)"/>
<text class="b" x="1744.7" y="747.5" font-size="28" text-anchor="middle">4</text>
<rect x="1844.0" y="121.7" width="39.0" height="589.3" fill="url(#gG)"/>
<rect x="1890.8" y="237.3" width="39.0" height="473.7" fill="url(#gW)"/>
<rect x="1937.6" y="300.5" width="39.0" height="410.5" fill="url(#gC)"/>
<text class="b" x="1910.8" y="747.5" font-size="28" text-anchor="middle">5</text>
<line x1="1164" y1="40" x2="1164" y2="714.5" stroke="#000" stroke-width="6"/>
<line x1="1992.6" y1="44" x2="1992.6" y2="714.5" stroke="#000" stroke-width="6"/>
<line x1="1161" y1="711" x2="1995.6" y2="711" stroke="#000" stroke-width="6.5"/>
<line x1="1161" y1="42.8" x2="1253" y2="42.8" stroke="#000" stroke-width="6.2"/>
<line x1="1253" y1="44.3" x2="1995.6" y2="44.3" stroke="#000" stroke-width="6.2"/>
<text class="b" x="1149" y="719.3" font-size="28" text-anchor="end">0</text>
<line x1="1164" y1="666.2" x2="1170" y2="666.2" stroke="#000" stroke-width="5.2"/>
<line x1="1164" y1="621.7" x2="1176.7" y2="621.7" stroke="#000" stroke-width="5.2"/>
<text class="b" x="1149" y="630.3" font-size="28" text-anchor="end">2</text>
<line x1="1164" y1="577.2" x2="1170" y2="577.2" stroke="#000" stroke-width="5.2"/>
<line x1="1164" y1="532.7" x2="1176.7" y2="532.7" stroke="#000" stroke-width="5.2"/>
<text class="b" x="1149" y="541.3" font-size="28" text-anchor="end">4</text>
<line x1="1164" y1="488.2" x2="1170" y2="488.2" stroke="#000" stroke-width="5.2"/>
<line x1="1164" y1="443.8" x2="1176.7" y2="443.8" stroke="#000" stroke-width="5.2"/>
<text class="b" x="1149" y="452.4" font-size="28" text-anchor="end">6</text>
<line x1="1164" y1="399.3" x2="1170" y2="399.3" stroke="#000" stroke-width="5.2"/>
<line x1="1164" y1="354.8" x2="1176.7" y2="354.8" stroke="#000" stroke-width="5.2"/>
<text class="b" x="1149" y="363.4" font-size="28" text-anchor="end">8</text>
<line x1="1164" y1="310.3" x2="1170" y2="310.3" stroke="#000" stroke-width="5.2"/>
<line x1="1164" y1="265.8" x2="1176.7" y2="265.8" stroke="#000" stroke-width="5.2"/>
<text class="b" x="1149" y="274.4" font-size="28" text-anchor="end">10</text>
<line x1="1164" y1="221.3" x2="1170" y2="221.3" stroke="#000" stroke-width="5.2"/>
<line x1="1164" y1="176.8" x2="1176.7" y2="176.8" stroke="#000" stroke-width="5.2"/>
<text class="b" x="1149" y="185.4" font-size="28" text-anchor="end">12</text>
<line x1="1164" y1="132.3" x2="1170" y2="132.3" stroke="#000" stroke-width="5.2"/>
<line x1="1164" y1="87.8" x2="1176.7" y2="87.8" stroke="#000" stroke-width="5.2"/>
<text class="b" x="1149" y="96.4" font-size="28" text-anchor="end">14</text>
<text class="b" x="1087.5" y="42.5" font-size="39">(b)</text>
<text class="b" x="1444" y="802" font-size="35.5" textLength="268" lengthAdjust="spacingAndGlyphs">Number of strains</text>
<text class="b" transform="translate(1107,548.6) rotate(-90)" x="0" y="0" font-size="31.5" textLength="345" lengthAdjust="spacing">hysteresis loss(10<tspan font-size="13" dy="-12">3</tspan><tspan dy="12">J/m</tspan><tspan font-size="13" dy="-12">3</tspan><tspan dy="12">)</tspan></text>
<rect x="1406.3" y="111.7" width="74.8" height="37" fill="url(#gG)"/>
<text x="1491" y="141.3" font-size="34">NR</text>
<rect x="1406.3" y="155.2" width="74.8" height="37" fill="url(#gW)"/>
<text x="1491" y="183.5" font-size="34">TKNR</text>
<rect x="1406.3" y="196.5" width="74.8" height="37" fill="url(#gC)"/>
<text x="1491" y="226.5" font-size="34">NR-TKNR</text>
</g>
</svg></body></html>
